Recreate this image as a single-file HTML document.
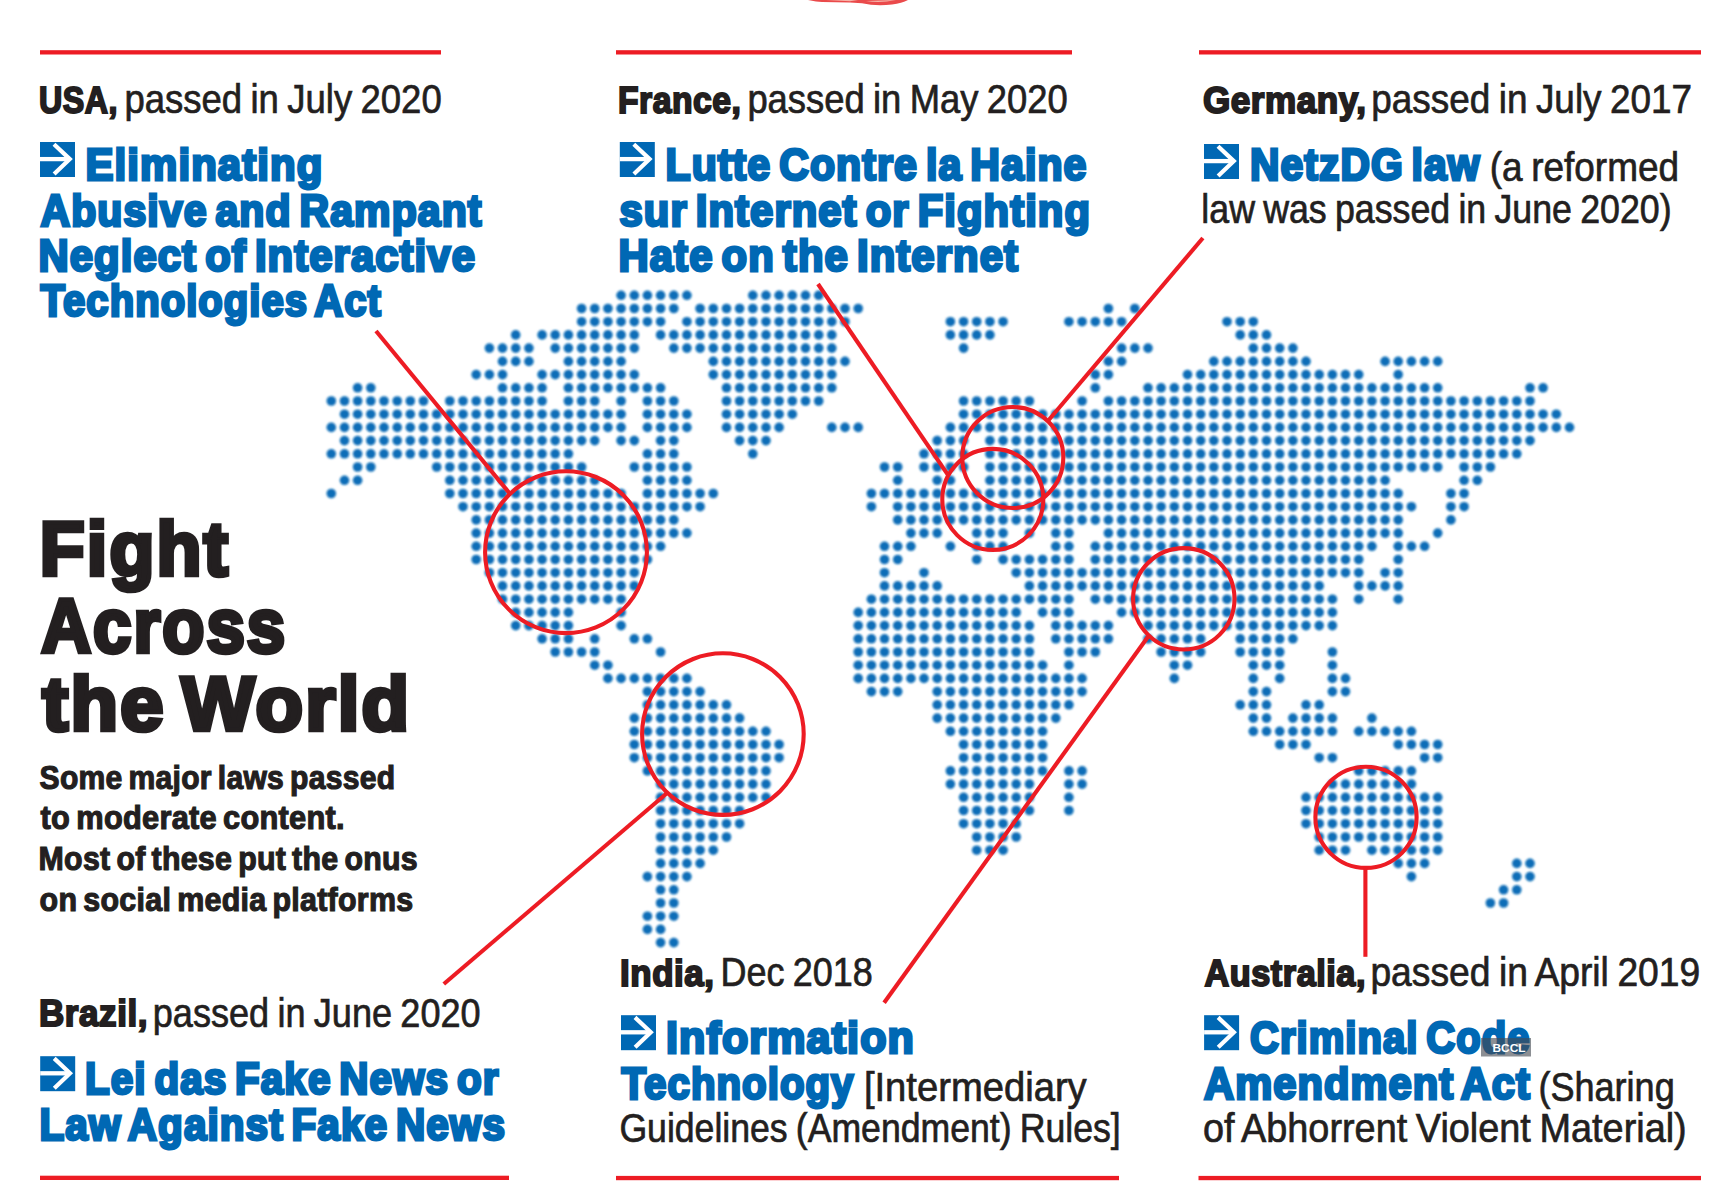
<!DOCTYPE html>
<html lang="en"><head><meta charset="utf-8"><title>Fight Across the World</title>
<style>html,body{margin:0;padding:0;background:#fff}body{width:1716px;height:1200px;overflow:hidden}svg{display:block}text{font-family:"Liberation Sans",sans-serif}.b{font-weight:bold;fill:#231f20;stroke:#231f20;stroke-width:2px;stroke-linejoin:miter;stroke-miterlimit:2.5;word-spacing:-3px;letter-spacing:.6px}.r{fill:#231f20;stroke:#231f20;stroke-width:.7px;word-spacing:-2px}.t{font-weight:bold;fill:#0068b4;stroke:#0068b4;stroke-width:3px;stroke-linejoin:miter;stroke-miterlimit:2.5;word-spacing:-5px;letter-spacing:1.2px}.h{font-weight:bold;fill:#231f20;stroke:#231f20;stroke-width:4.6px;stroke-linejoin:miter;stroke-miterlimit:2.5;word-spacing:-8px;letter-spacing:2.2px}.s{font-weight:bold;fill:#231f20;stroke:#231f20;stroke-width:1.2px;stroke-linejoin:miter;stroke-miterlimit:2.5;word-spacing:-3px;letter-spacing:.3px}</style></head><body>
<svg width="1716" height="1200" viewBox="0 0 1716 1200">
<rect width="1716" height="1200" fill="#fff"/>
<path d="M808,0 L816,1.4 L822,2 L850,2.6 L862,3.3 Q876,6.6 892,4.6 Q902,3 908,0 Z" fill="#ea4a4b"/>
<path d="M826,0 L850,1.2 L858,0 Z M866,1 Q880,3.6 896,0 Z" fill="#f6b3a8"/>
<filter id="bl" x="-5%" y="-5%" width="110%" height="110%"><feGaussianBlur stdDeviation="0.95"/></filter><g fill="#0b6db7" filter="url(#bl)">
<circle cx="621.1" cy="295.3" r="4.80"/><circle cx="634.3" cy="295.3" r="4.80"/><circle cx="647.4" cy="295.3" r="4.80"/><circle cx="660.6" cy="295.3" r="4.80"/><circle cx="673.8" cy="295.3" r="4.80"/><circle cx="686.9" cy="295.3" r="4.80"/><circle cx="752.8" cy="295.3" r="4.80"/><circle cx="766.0" cy="295.3" r="4.80"/><circle cx="779.1" cy="295.3" r="4.80"/><circle cx="792.3" cy="295.3" r="4.80"/><circle cx="805.5" cy="295.3" r="4.80"/><circle cx="818.7" cy="295.3" r="4.80"/><circle cx="581.6" cy="308.5" r="4.80"/><circle cx="594.7" cy="308.5" r="4.80"/><circle cx="607.9" cy="308.5" r="4.80"/><circle cx="621.1" cy="308.5" r="4.80"/><circle cx="634.3" cy="308.5" r="4.80"/><circle cx="647.4" cy="308.5" r="4.80"/><circle cx="660.6" cy="308.5" r="4.80"/><circle cx="673.8" cy="308.5" r="4.80"/><circle cx="700.1" cy="308.5" r="4.80"/><circle cx="713.3" cy="308.5" r="4.80"/><circle cx="726.5" cy="308.5" r="4.80"/><circle cx="739.6" cy="308.5" r="4.80"/><circle cx="752.8" cy="308.5" r="4.80"/><circle cx="766.0" cy="308.5" r="4.80"/><circle cx="779.1" cy="308.5" r="4.80"/><circle cx="792.3" cy="308.5" r="4.80"/><circle cx="805.5" cy="308.5" r="4.80"/><circle cx="818.7" cy="308.5" r="4.80"/><circle cx="831.8" cy="308.5" r="4.80"/><circle cx="845.0" cy="308.5" r="4.80"/><circle cx="858.2" cy="308.5" r="4.80"/><circle cx="1108.4" cy="308.5" r="4.80"/><circle cx="1134.8" cy="308.5" r="4.80"/><circle cx="581.6" cy="321.7" r="4.80"/><circle cx="594.7" cy="321.7" r="4.80"/><circle cx="607.9" cy="321.7" r="4.80"/><circle cx="621.1" cy="321.7" r="4.80"/><circle cx="634.3" cy="321.7" r="4.80"/><circle cx="647.4" cy="321.7" r="4.80"/><circle cx="660.6" cy="321.7" r="4.80"/><circle cx="686.9" cy="321.7" r="4.80"/><circle cx="700.1" cy="321.7" r="4.80"/><circle cx="713.3" cy="321.7" r="4.80"/><circle cx="726.5" cy="321.7" r="4.80"/><circle cx="739.6" cy="321.7" r="4.80"/><circle cx="752.8" cy="321.7" r="4.80"/><circle cx="766.0" cy="321.7" r="4.80"/><circle cx="779.1" cy="321.7" r="4.80"/><circle cx="792.3" cy="321.7" r="4.80"/><circle cx="805.5" cy="321.7" r="4.80"/><circle cx="818.7" cy="321.7" r="4.80"/><circle cx="831.8" cy="321.7" r="4.80"/><circle cx="845.0" cy="321.7" r="4.80"/><circle cx="950.4" cy="321.7" r="4.80"/><circle cx="963.6" cy="321.7" r="4.80"/><circle cx="976.7" cy="321.7" r="4.80"/><circle cx="989.9" cy="321.7" r="4.80"/><circle cx="1003.1" cy="321.7" r="4.80"/><circle cx="1068.9" cy="321.7" r="4.80"/><circle cx="1082.1" cy="321.7" r="4.80"/><circle cx="1095.3" cy="321.7" r="4.80"/><circle cx="1108.4" cy="321.7" r="4.80"/><circle cx="1121.6" cy="321.7" r="4.80"/><circle cx="1227.0" cy="321.7" r="4.80"/><circle cx="1240.2" cy="321.7" r="4.80"/><circle cx="1253.3" cy="321.7" r="4.80"/><circle cx="515.7" cy="334.9" r="4.80"/><circle cx="542.1" cy="334.9" r="4.80"/><circle cx="555.2" cy="334.9" r="4.80"/><circle cx="568.4" cy="334.9" r="4.80"/><circle cx="581.6" cy="334.9" r="4.80"/><circle cx="594.7" cy="334.9" r="4.80"/><circle cx="607.9" cy="334.9" r="4.80"/><circle cx="621.1" cy="334.9" r="4.80"/><circle cx="634.3" cy="334.9" r="4.80"/><circle cx="660.6" cy="334.9" r="4.80"/><circle cx="673.8" cy="334.9" r="4.80"/><circle cx="686.9" cy="334.9" r="4.80"/><circle cx="700.1" cy="334.9" r="4.80"/><circle cx="713.3" cy="334.9" r="4.80"/><circle cx="726.5" cy="334.9" r="4.80"/><circle cx="739.6" cy="334.9" r="4.80"/><circle cx="752.8" cy="334.9" r="4.80"/><circle cx="766.0" cy="334.9" r="4.80"/><circle cx="779.1" cy="334.9" r="4.80"/><circle cx="792.3" cy="334.9" r="4.80"/><circle cx="805.5" cy="334.9" r="4.80"/><circle cx="818.7" cy="334.9" r="4.80"/><circle cx="831.8" cy="334.9" r="4.80"/><circle cx="950.4" cy="334.9" r="4.80"/><circle cx="963.6" cy="334.9" r="4.80"/><circle cx="976.7" cy="334.9" r="4.80"/><circle cx="989.9" cy="334.9" r="4.80"/><circle cx="1240.2" cy="334.9" r="4.80"/><circle cx="1253.3" cy="334.9" r="4.80"/><circle cx="1266.5" cy="334.9" r="4.80"/><circle cx="489.4" cy="348.1" r="4.80"/><circle cx="502.5" cy="348.1" r="4.80"/><circle cx="515.7" cy="348.1" r="4.80"/><circle cx="528.9" cy="348.1" r="4.80"/><circle cx="555.2" cy="348.1" r="4.80"/><circle cx="568.4" cy="348.1" r="4.80"/><circle cx="581.6" cy="348.1" r="4.80"/><circle cx="594.7" cy="348.1" r="4.80"/><circle cx="607.9" cy="348.1" r="4.80"/><circle cx="621.1" cy="348.1" r="4.80"/><circle cx="634.3" cy="348.1" r="4.80"/><circle cx="673.8" cy="348.1" r="4.80"/><circle cx="686.9" cy="348.1" r="4.80"/><circle cx="700.1" cy="348.1" r="4.80"/><circle cx="713.3" cy="348.1" r="4.80"/><circle cx="726.5" cy="348.1" r="4.80"/><circle cx="739.6" cy="348.1" r="4.80"/><circle cx="752.8" cy="348.1" r="4.80"/><circle cx="766.0" cy="348.1" r="4.80"/><circle cx="779.1" cy="348.1" r="4.80"/><circle cx="792.3" cy="348.1" r="4.80"/><circle cx="805.5" cy="348.1" r="4.80"/><circle cx="818.7" cy="348.1" r="4.80"/><circle cx="831.8" cy="348.1" r="4.80"/><circle cx="963.6" cy="348.1" r="4.80"/><circle cx="1121.6" cy="348.1" r="4.80"/><circle cx="1134.8" cy="348.1" r="4.80"/><circle cx="1148.0" cy="348.1" r="4.80"/><circle cx="1253.3" cy="348.1" r="4.80"/><circle cx="1266.5" cy="348.1" r="4.80"/><circle cx="1279.7" cy="348.1" r="4.80"/><circle cx="1292.9" cy="348.1" r="4.80"/><circle cx="502.5" cy="361.4" r="4.80"/><circle cx="515.7" cy="361.4" r="4.80"/><circle cx="528.9" cy="361.4" r="4.80"/><circle cx="568.4" cy="361.4" r="4.80"/><circle cx="581.6" cy="361.4" r="4.80"/><circle cx="594.7" cy="361.4" r="4.80"/><circle cx="607.9" cy="361.4" r="4.80"/><circle cx="621.1" cy="361.4" r="4.80"/><circle cx="713.3" cy="361.4" r="4.80"/><circle cx="726.5" cy="361.4" r="4.80"/><circle cx="739.6" cy="361.4" r="4.80"/><circle cx="752.8" cy="361.4" r="4.80"/><circle cx="766.0" cy="361.4" r="4.80"/><circle cx="779.1" cy="361.4" r="4.80"/><circle cx="792.3" cy="361.4" r="4.80"/><circle cx="805.5" cy="361.4" r="4.80"/><circle cx="818.7" cy="361.4" r="4.80"/><circle cx="831.8" cy="361.4" r="4.80"/><circle cx="845.0" cy="361.4" r="4.80"/><circle cx="1108.4" cy="361.4" r="4.80"/><circle cx="1121.6" cy="361.4" r="4.80"/><circle cx="1213.8" cy="361.4" r="4.80"/><circle cx="1227.0" cy="361.4" r="4.80"/><circle cx="1240.2" cy="361.4" r="4.80"/><circle cx="1253.3" cy="361.4" r="4.80"/><circle cx="1266.5" cy="361.4" r="4.80"/><circle cx="1279.7" cy="361.4" r="4.80"/><circle cx="1292.9" cy="361.4" r="4.80"/><circle cx="1306.0" cy="361.4" r="4.80"/><circle cx="1385.1" cy="361.4" r="4.80"/><circle cx="1398.2" cy="361.4" r="4.80"/><circle cx="1411.4" cy="361.4" r="4.80"/><circle cx="1424.6" cy="361.4" r="4.80"/><circle cx="1437.7" cy="361.4" r="4.80"/><circle cx="476.2" cy="374.6" r="4.80"/><circle cx="489.4" cy="374.6" r="4.80"/><circle cx="502.5" cy="374.6" r="4.80"/><circle cx="542.1" cy="374.6" r="4.80"/><circle cx="555.2" cy="374.6" r="4.80"/><circle cx="568.4" cy="374.6" r="4.80"/><circle cx="581.6" cy="374.6" r="4.80"/><circle cx="594.7" cy="374.6" r="4.80"/><circle cx="607.9" cy="374.6" r="4.80"/><circle cx="621.1" cy="374.6" r="4.80"/><circle cx="634.3" cy="374.6" r="4.80"/><circle cx="713.3" cy="374.6" r="4.80"/><circle cx="726.5" cy="374.6" r="4.80"/><circle cx="739.6" cy="374.6" r="4.80"/><circle cx="752.8" cy="374.6" r="4.80"/><circle cx="766.0" cy="374.6" r="4.80"/><circle cx="779.1" cy="374.6" r="4.80"/><circle cx="792.3" cy="374.6" r="4.80"/><circle cx="805.5" cy="374.6" r="4.80"/><circle cx="818.7" cy="374.6" r="4.80"/><circle cx="831.8" cy="374.6" r="4.80"/><circle cx="1095.3" cy="374.6" r="4.80"/><circle cx="1108.4" cy="374.6" r="4.80"/><circle cx="1187.5" cy="374.6" r="4.80"/><circle cx="1200.7" cy="374.6" r="4.80"/><circle cx="1213.8" cy="374.6" r="4.80"/><circle cx="1227.0" cy="374.6" r="4.80"/><circle cx="1240.2" cy="374.6" r="4.80"/><circle cx="1253.3" cy="374.6" r="4.80"/><circle cx="1266.5" cy="374.6" r="4.80"/><circle cx="1279.7" cy="374.6" r="4.80"/><circle cx="1292.9" cy="374.6" r="4.80"/><circle cx="1306.0" cy="374.6" r="4.80"/><circle cx="1319.2" cy="374.6" r="4.80"/><circle cx="1332.4" cy="374.6" r="4.80"/><circle cx="1345.5" cy="374.6" r="4.80"/><circle cx="1358.7" cy="374.6" r="4.80"/><circle cx="1398.2" cy="374.6" r="4.80"/><circle cx="357.6" cy="387.8" r="4.80"/><circle cx="370.8" cy="387.8" r="4.80"/><circle cx="502.5" cy="387.8" r="4.80"/><circle cx="515.7" cy="387.8" r="4.80"/><circle cx="528.9" cy="387.8" r="4.80"/><circle cx="542.1" cy="387.8" r="4.80"/><circle cx="568.4" cy="387.8" r="4.80"/><circle cx="581.6" cy="387.8" r="4.80"/><circle cx="594.7" cy="387.8" r="4.80"/><circle cx="607.9" cy="387.8" r="4.80"/><circle cx="621.1" cy="387.8" r="4.80"/><circle cx="634.3" cy="387.8" r="4.80"/><circle cx="647.4" cy="387.8" r="4.80"/><circle cx="660.6" cy="387.8" r="4.80"/><circle cx="726.5" cy="387.8" r="4.80"/><circle cx="739.6" cy="387.8" r="4.80"/><circle cx="752.8" cy="387.8" r="4.80"/><circle cx="766.0" cy="387.8" r="4.80"/><circle cx="779.1" cy="387.8" r="4.80"/><circle cx="792.3" cy="387.8" r="4.80"/><circle cx="805.5" cy="387.8" r="4.80"/><circle cx="818.7" cy="387.8" r="4.80"/><circle cx="831.8" cy="387.8" r="4.80"/><circle cx="1095.3" cy="387.8" r="4.80"/><circle cx="1148.0" cy="387.8" r="4.80"/><circle cx="1161.1" cy="387.8" r="4.80"/><circle cx="1174.3" cy="387.8" r="4.80"/><circle cx="1187.5" cy="387.8" r="4.80"/><circle cx="1200.7" cy="387.8" r="4.80"/><circle cx="1213.8" cy="387.8" r="4.80"/><circle cx="1227.0" cy="387.8" r="4.80"/><circle cx="1240.2" cy="387.8" r="4.80"/><circle cx="1253.3" cy="387.8" r="4.80"/><circle cx="1266.5" cy="387.8" r="4.80"/><circle cx="1279.7" cy="387.8" r="4.80"/><circle cx="1292.9" cy="387.8" r="4.80"/><circle cx="1306.0" cy="387.8" r="4.80"/><circle cx="1319.2" cy="387.8" r="4.80"/><circle cx="1332.4" cy="387.8" r="4.80"/><circle cx="1345.5" cy="387.8" r="4.80"/><circle cx="1358.7" cy="387.8" r="4.80"/><circle cx="1371.9" cy="387.8" r="4.80"/><circle cx="1385.1" cy="387.8" r="4.80"/><circle cx="1398.2" cy="387.8" r="4.80"/><circle cx="1411.4" cy="387.8" r="4.80"/><circle cx="1424.6" cy="387.8" r="4.80"/><circle cx="1437.7" cy="387.8" r="4.80"/><circle cx="1530.0" cy="387.8" r="4.80"/><circle cx="1543.1" cy="387.8" r="4.80"/><circle cx="331.3" cy="401.0" r="4.80"/><circle cx="344.5" cy="401.0" r="4.80"/><circle cx="357.6" cy="401.0" r="4.80"/><circle cx="370.8" cy="401.0" r="4.80"/><circle cx="384.0" cy="401.0" r="4.80"/><circle cx="397.2" cy="401.0" r="4.80"/><circle cx="410.3" cy="401.0" r="4.80"/><circle cx="423.5" cy="401.0" r="4.80"/><circle cx="449.8" cy="401.0" r="4.80"/><circle cx="463.0" cy="401.0" r="4.80"/><circle cx="476.2" cy="401.0" r="4.80"/><circle cx="489.4" cy="401.0" r="4.80"/><circle cx="502.5" cy="401.0" r="4.80"/><circle cx="515.7" cy="401.0" r="4.80"/><circle cx="528.9" cy="401.0" r="4.80"/><circle cx="542.1" cy="401.0" r="4.80"/><circle cx="568.4" cy="401.0" r="4.80"/><circle cx="581.6" cy="401.0" r="4.80"/><circle cx="594.7" cy="401.0" r="4.80"/><circle cx="621.1" cy="401.0" r="4.80"/><circle cx="647.4" cy="401.0" r="4.80"/><circle cx="660.6" cy="401.0" r="4.80"/><circle cx="673.8" cy="401.0" r="4.80"/><circle cx="726.5" cy="401.0" r="4.80"/><circle cx="739.6" cy="401.0" r="4.80"/><circle cx="752.8" cy="401.0" r="4.80"/><circle cx="766.0" cy="401.0" r="4.80"/><circle cx="779.1" cy="401.0" r="4.80"/><circle cx="792.3" cy="401.0" r="4.80"/><circle cx="805.5" cy="401.0" r="4.80"/><circle cx="818.7" cy="401.0" r="4.80"/><circle cx="963.6" cy="401.0" r="4.80"/><circle cx="976.7" cy="401.0" r="4.80"/><circle cx="989.9" cy="401.0" r="4.80"/><circle cx="1003.1" cy="401.0" r="4.80"/><circle cx="1016.2" cy="401.0" r="4.80"/><circle cx="1029.4" cy="401.0" r="4.80"/><circle cx="1082.1" cy="401.0" r="4.80"/><circle cx="1108.4" cy="401.0" r="4.80"/><circle cx="1121.6" cy="401.0" r="4.80"/><circle cx="1134.8" cy="401.0" r="4.80"/><circle cx="1148.0" cy="401.0" r="4.80"/><circle cx="1161.1" cy="401.0" r="4.80"/><circle cx="1174.3" cy="401.0" r="4.80"/><circle cx="1187.5" cy="401.0" r="4.80"/><circle cx="1200.7" cy="401.0" r="4.80"/><circle cx="1213.8" cy="401.0" r="4.80"/><circle cx="1227.0" cy="401.0" r="4.80"/><circle cx="1240.2" cy="401.0" r="4.80"/><circle cx="1253.3" cy="401.0" r="4.80"/><circle cx="1266.5" cy="401.0" r="4.80"/><circle cx="1279.7" cy="401.0" r="4.80"/><circle cx="1292.9" cy="401.0" r="4.80"/><circle cx="1306.0" cy="401.0" r="4.80"/><circle cx="1319.2" cy="401.0" r="4.80"/><circle cx="1332.4" cy="401.0" r="4.80"/><circle cx="1345.5" cy="401.0" r="4.80"/><circle cx="1358.7" cy="401.0" r="4.80"/><circle cx="1371.9" cy="401.0" r="4.80"/><circle cx="1385.1" cy="401.0" r="4.80"/><circle cx="1398.2" cy="401.0" r="4.80"/><circle cx="1411.4" cy="401.0" r="4.80"/><circle cx="1424.6" cy="401.0" r="4.80"/><circle cx="1437.7" cy="401.0" r="4.80"/><circle cx="1450.9" cy="401.0" r="4.80"/><circle cx="1464.1" cy="401.0" r="4.80"/><circle cx="1477.3" cy="401.0" r="4.80"/><circle cx="1490.4" cy="401.0" r="4.80"/><circle cx="1503.6" cy="401.0" r="4.80"/><circle cx="1516.8" cy="401.0" r="4.80"/><circle cx="1530.0" cy="401.0" r="4.80"/><circle cx="344.5" cy="414.2" r="4.80"/><circle cx="357.6" cy="414.2" r="4.80"/><circle cx="370.8" cy="414.2" r="4.80"/><circle cx="384.0" cy="414.2" r="4.80"/><circle cx="397.2" cy="414.2" r="4.80"/><circle cx="410.3" cy="414.2" r="4.80"/><circle cx="423.5" cy="414.2" r="4.80"/><circle cx="436.7" cy="414.2" r="4.80"/><circle cx="449.8" cy="414.2" r="4.80"/><circle cx="463.0" cy="414.2" r="4.80"/><circle cx="476.2" cy="414.2" r="4.80"/><circle cx="489.4" cy="414.2" r="4.80"/><circle cx="502.5" cy="414.2" r="4.80"/><circle cx="515.7" cy="414.2" r="4.80"/><circle cx="528.9" cy="414.2" r="4.80"/><circle cx="542.1" cy="414.2" r="4.80"/><circle cx="555.2" cy="414.2" r="4.80"/><circle cx="568.4" cy="414.2" r="4.80"/><circle cx="581.6" cy="414.2" r="4.80"/><circle cx="594.7" cy="414.2" r="4.80"/><circle cx="607.9" cy="414.2" r="4.80"/><circle cx="621.1" cy="414.2" r="4.80"/><circle cx="647.4" cy="414.2" r="4.80"/><circle cx="660.6" cy="414.2" r="4.80"/><circle cx="673.8" cy="414.2" r="4.80"/><circle cx="686.9" cy="414.2" r="4.80"/><circle cx="726.5" cy="414.2" r="4.80"/><circle cx="739.6" cy="414.2" r="4.80"/><circle cx="752.8" cy="414.2" r="4.80"/><circle cx="766.0" cy="414.2" r="4.80"/><circle cx="779.1" cy="414.2" r="4.80"/><circle cx="792.3" cy="414.2" r="4.80"/><circle cx="963.6" cy="414.2" r="4.80"/><circle cx="976.7" cy="414.2" r="4.80"/><circle cx="989.9" cy="414.2" r="4.80"/><circle cx="1003.1" cy="414.2" r="4.80"/><circle cx="1016.2" cy="414.2" r="4.80"/><circle cx="1029.4" cy="414.2" r="4.80"/><circle cx="1042.6" cy="414.2" r="4.80"/><circle cx="1055.8" cy="414.2" r="4.80"/><circle cx="1068.9" cy="414.2" r="4.80"/><circle cx="1082.1" cy="414.2" r="4.80"/><circle cx="1095.3" cy="414.2" r="4.80"/><circle cx="1108.4" cy="414.2" r="4.80"/><circle cx="1121.6" cy="414.2" r="4.80"/><circle cx="1134.8" cy="414.2" r="4.80"/><circle cx="1148.0" cy="414.2" r="4.80"/><circle cx="1161.1" cy="414.2" r="4.80"/><circle cx="1174.3" cy="414.2" r="4.80"/><circle cx="1187.5" cy="414.2" r="4.80"/><circle cx="1200.7" cy="414.2" r="4.80"/><circle cx="1213.8" cy="414.2" r="4.80"/><circle cx="1227.0" cy="414.2" r="4.80"/><circle cx="1240.2" cy="414.2" r="4.80"/><circle cx="1253.3" cy="414.2" r="4.80"/><circle cx="1266.5" cy="414.2" r="4.80"/><circle cx="1279.7" cy="414.2" r="4.80"/><circle cx="1292.9" cy="414.2" r="4.80"/><circle cx="1306.0" cy="414.2" r="4.80"/><circle cx="1319.2" cy="414.2" r="4.80"/><circle cx="1332.4" cy="414.2" r="4.80"/><circle cx="1345.5" cy="414.2" r="4.80"/><circle cx="1358.7" cy="414.2" r="4.80"/><circle cx="1371.9" cy="414.2" r="4.80"/><circle cx="1385.1" cy="414.2" r="4.80"/><circle cx="1398.2" cy="414.2" r="4.80"/><circle cx="1411.4" cy="414.2" r="4.80"/><circle cx="1424.6" cy="414.2" r="4.80"/><circle cx="1437.7" cy="414.2" r="4.80"/><circle cx="1450.9" cy="414.2" r="4.80"/><circle cx="1464.1" cy="414.2" r="4.80"/><circle cx="1477.3" cy="414.2" r="4.80"/><circle cx="1490.4" cy="414.2" r="4.80"/><circle cx="1503.6" cy="414.2" r="4.80"/><circle cx="1516.8" cy="414.2" r="4.80"/><circle cx="1530.0" cy="414.2" r="4.80"/><circle cx="1543.1" cy="414.2" r="4.80"/><circle cx="1556.3" cy="414.2" r="4.80"/><circle cx="331.3" cy="427.4" r="4.80"/><circle cx="344.5" cy="427.4" r="4.80"/><circle cx="357.6" cy="427.4" r="4.80"/><circle cx="370.8" cy="427.4" r="4.80"/><circle cx="384.0" cy="427.4" r="4.80"/><circle cx="397.2" cy="427.4" r="4.80"/><circle cx="410.3" cy="427.4" r="4.80"/><circle cx="423.5" cy="427.4" r="4.80"/><circle cx="436.7" cy="427.4" r="4.80"/><circle cx="449.8" cy="427.4" r="4.80"/><circle cx="463.0" cy="427.4" r="4.80"/><circle cx="476.2" cy="427.4" r="4.80"/><circle cx="489.4" cy="427.4" r="4.80"/><circle cx="502.5" cy="427.4" r="4.80"/><circle cx="515.7" cy="427.4" r="4.80"/><circle cx="528.9" cy="427.4" r="4.80"/><circle cx="542.1" cy="427.4" r="4.80"/><circle cx="555.2" cy="427.4" r="4.80"/><circle cx="568.4" cy="427.4" r="4.80"/><circle cx="581.6" cy="427.4" r="4.80"/><circle cx="594.7" cy="427.4" r="4.80"/><circle cx="607.9" cy="427.4" r="4.80"/><circle cx="621.1" cy="427.4" r="4.80"/><circle cx="647.4" cy="427.4" r="4.80"/><circle cx="660.6" cy="427.4" r="4.80"/><circle cx="673.8" cy="427.4" r="4.80"/><circle cx="686.9" cy="427.4" r="4.80"/><circle cx="726.5" cy="427.4" r="4.80"/><circle cx="739.6" cy="427.4" r="4.80"/><circle cx="752.8" cy="427.4" r="4.80"/><circle cx="766.0" cy="427.4" r="4.80"/><circle cx="779.1" cy="427.4" r="4.80"/><circle cx="831.8" cy="427.4" r="4.80"/><circle cx="845.0" cy="427.4" r="4.80"/><circle cx="858.2" cy="427.4" r="4.80"/><circle cx="950.4" cy="427.4" r="4.80"/><circle cx="963.6" cy="427.4" r="4.80"/><circle cx="976.7" cy="427.4" r="4.80"/><circle cx="989.9" cy="427.4" r="4.80"/><circle cx="1003.1" cy="427.4" r="4.80"/><circle cx="1016.2" cy="427.4" r="4.80"/><circle cx="1029.4" cy="427.4" r="4.80"/><circle cx="1042.6" cy="427.4" r="4.80"/><circle cx="1055.8" cy="427.4" r="4.80"/><circle cx="1068.9" cy="427.4" r="4.80"/><circle cx="1082.1" cy="427.4" r="4.80"/><circle cx="1095.3" cy="427.4" r="4.80"/><circle cx="1108.4" cy="427.4" r="4.80"/><circle cx="1121.6" cy="427.4" r="4.80"/><circle cx="1134.8" cy="427.4" r="4.80"/><circle cx="1148.0" cy="427.4" r="4.80"/><circle cx="1161.1" cy="427.4" r="4.80"/><circle cx="1174.3" cy="427.4" r="4.80"/><circle cx="1187.5" cy="427.4" r="4.80"/><circle cx="1200.7" cy="427.4" r="4.80"/><circle cx="1213.8" cy="427.4" r="4.80"/><circle cx="1227.0" cy="427.4" r="4.80"/><circle cx="1240.2" cy="427.4" r="4.80"/><circle cx="1253.3" cy="427.4" r="4.80"/><circle cx="1266.5" cy="427.4" r="4.80"/><circle cx="1279.7" cy="427.4" r="4.80"/><circle cx="1292.9" cy="427.4" r="4.80"/><circle cx="1306.0" cy="427.4" r="4.80"/><circle cx="1319.2" cy="427.4" r="4.80"/><circle cx="1332.4" cy="427.4" r="4.80"/><circle cx="1345.5" cy="427.4" r="4.80"/><circle cx="1358.7" cy="427.4" r="4.80"/><circle cx="1371.9" cy="427.4" r="4.80"/><circle cx="1385.1" cy="427.4" r="4.80"/><circle cx="1398.2" cy="427.4" r="4.80"/><circle cx="1411.4" cy="427.4" r="4.80"/><circle cx="1424.6" cy="427.4" r="4.80"/><circle cx="1437.7" cy="427.4" r="4.80"/><circle cx="1450.9" cy="427.4" r="4.80"/><circle cx="1464.1" cy="427.4" r="4.80"/><circle cx="1477.3" cy="427.4" r="4.80"/><circle cx="1490.4" cy="427.4" r="4.80"/><circle cx="1503.6" cy="427.4" r="4.80"/><circle cx="1516.8" cy="427.4" r="4.80"/><circle cx="1530.0" cy="427.4" r="4.80"/><circle cx="1543.1" cy="427.4" r="4.80"/><circle cx="1556.3" cy="427.4" r="4.80"/><circle cx="1569.5" cy="427.4" r="4.80"/><circle cx="344.5" cy="440.6" r="4.80"/><circle cx="357.6" cy="440.6" r="4.80"/><circle cx="370.8" cy="440.6" r="4.80"/><circle cx="384.0" cy="440.6" r="4.80"/><circle cx="397.2" cy="440.6" r="4.80"/><circle cx="410.3" cy="440.6" r="4.80"/><circle cx="423.5" cy="440.6" r="4.80"/><circle cx="436.7" cy="440.6" r="4.80"/><circle cx="449.8" cy="440.6" r="4.80"/><circle cx="463.0" cy="440.6" r="4.80"/><circle cx="476.2" cy="440.6" r="4.80"/><circle cx="489.4" cy="440.6" r="4.80"/><circle cx="502.5" cy="440.6" r="4.80"/><circle cx="515.7" cy="440.6" r="4.80"/><circle cx="528.9" cy="440.6" r="4.80"/><circle cx="542.1" cy="440.6" r="4.80"/><circle cx="555.2" cy="440.6" r="4.80"/><circle cx="568.4" cy="440.6" r="4.80"/><circle cx="581.6" cy="440.6" r="4.80"/><circle cx="594.7" cy="440.6" r="4.80"/><circle cx="621.1" cy="440.6" r="4.80"/><circle cx="634.3" cy="440.6" r="4.80"/><circle cx="660.6" cy="440.6" r="4.80"/><circle cx="673.8" cy="440.6" r="4.80"/><circle cx="739.6" cy="440.6" r="4.80"/><circle cx="752.8" cy="440.6" r="4.80"/><circle cx="766.0" cy="440.6" r="4.80"/><circle cx="937.2" cy="440.6" r="4.80"/><circle cx="950.4" cy="440.6" r="4.80"/><circle cx="963.6" cy="440.6" r="4.80"/><circle cx="989.9" cy="440.6" r="4.80"/><circle cx="1003.1" cy="440.6" r="4.80"/><circle cx="1016.2" cy="440.6" r="4.80"/><circle cx="1029.4" cy="440.6" r="4.80"/><circle cx="1042.6" cy="440.6" r="4.80"/><circle cx="1055.8" cy="440.6" r="4.80"/><circle cx="1068.9" cy="440.6" r="4.80"/><circle cx="1082.1" cy="440.6" r="4.80"/><circle cx="1095.3" cy="440.6" r="4.80"/><circle cx="1108.4" cy="440.6" r="4.80"/><circle cx="1121.6" cy="440.6" r="4.80"/><circle cx="1134.8" cy="440.6" r="4.80"/><circle cx="1148.0" cy="440.6" r="4.80"/><circle cx="1161.1" cy="440.6" r="4.80"/><circle cx="1174.3" cy="440.6" r="4.80"/><circle cx="1187.5" cy="440.6" r="4.80"/><circle cx="1200.7" cy="440.6" r="4.80"/><circle cx="1213.8" cy="440.6" r="4.80"/><circle cx="1227.0" cy="440.6" r="4.80"/><circle cx="1240.2" cy="440.6" r="4.80"/><circle cx="1253.3" cy="440.6" r="4.80"/><circle cx="1266.5" cy="440.6" r="4.80"/><circle cx="1279.7" cy="440.6" r="4.80"/><circle cx="1292.9" cy="440.6" r="4.80"/><circle cx="1306.0" cy="440.6" r="4.80"/><circle cx="1319.2" cy="440.6" r="4.80"/><circle cx="1332.4" cy="440.6" r="4.80"/><circle cx="1345.5" cy="440.6" r="4.80"/><circle cx="1358.7" cy="440.6" r="4.80"/><circle cx="1371.9" cy="440.6" r="4.80"/><circle cx="1385.1" cy="440.6" r="4.80"/><circle cx="1398.2" cy="440.6" r="4.80"/><circle cx="1411.4" cy="440.6" r="4.80"/><circle cx="1424.6" cy="440.6" r="4.80"/><circle cx="1437.7" cy="440.6" r="4.80"/><circle cx="1450.9" cy="440.6" r="4.80"/><circle cx="1464.1" cy="440.6" r="4.80"/><circle cx="1477.3" cy="440.6" r="4.80"/><circle cx="1490.4" cy="440.6" r="4.80"/><circle cx="1503.6" cy="440.6" r="4.80"/><circle cx="1516.8" cy="440.6" r="4.80"/><circle cx="1530.0" cy="440.6" r="4.80"/><circle cx="331.3" cy="453.8" r="4.80"/><circle cx="344.5" cy="453.8" r="4.80"/><circle cx="357.6" cy="453.8" r="4.80"/><circle cx="370.8" cy="453.8" r="4.80"/><circle cx="384.0" cy="453.8" r="4.80"/><circle cx="397.2" cy="453.8" r="4.80"/><circle cx="410.3" cy="453.8" r="4.80"/><circle cx="423.5" cy="453.8" r="4.80"/><circle cx="436.7" cy="453.8" r="4.80"/><circle cx="449.8" cy="453.8" r="4.80"/><circle cx="463.0" cy="453.8" r="4.80"/><circle cx="476.2" cy="453.8" r="4.80"/><circle cx="489.4" cy="453.8" r="4.80"/><circle cx="502.5" cy="453.8" r="4.80"/><circle cx="515.7" cy="453.8" r="4.80"/><circle cx="528.9" cy="453.8" r="4.80"/><circle cx="542.1" cy="453.8" r="4.80"/><circle cx="555.2" cy="453.8" r="4.80"/><circle cx="568.4" cy="453.8" r="4.80"/><circle cx="647.4" cy="453.8" r="4.80"/><circle cx="660.6" cy="453.8" r="4.80"/><circle cx="673.8" cy="453.8" r="4.80"/><circle cx="752.8" cy="453.8" r="4.80"/><circle cx="924.0" cy="453.8" r="4.80"/><circle cx="937.2" cy="453.8" r="4.80"/><circle cx="950.4" cy="453.8" r="4.80"/><circle cx="963.6" cy="453.8" r="4.80"/><circle cx="989.9" cy="453.8" r="4.80"/><circle cx="1003.1" cy="453.8" r="4.80"/><circle cx="1016.2" cy="453.8" r="4.80"/><circle cx="1029.4" cy="453.8" r="4.80"/><circle cx="1042.6" cy="453.8" r="4.80"/><circle cx="1055.8" cy="453.8" r="4.80"/><circle cx="1068.9" cy="453.8" r="4.80"/><circle cx="1082.1" cy="453.8" r="4.80"/><circle cx="1095.3" cy="453.8" r="4.80"/><circle cx="1108.4" cy="453.8" r="4.80"/><circle cx="1121.6" cy="453.8" r="4.80"/><circle cx="1134.8" cy="453.8" r="4.80"/><circle cx="1148.0" cy="453.8" r="4.80"/><circle cx="1161.1" cy="453.8" r="4.80"/><circle cx="1174.3" cy="453.8" r="4.80"/><circle cx="1187.5" cy="453.8" r="4.80"/><circle cx="1200.7" cy="453.8" r="4.80"/><circle cx="1213.8" cy="453.8" r="4.80"/><circle cx="1227.0" cy="453.8" r="4.80"/><circle cx="1240.2" cy="453.8" r="4.80"/><circle cx="1253.3" cy="453.8" r="4.80"/><circle cx="1266.5" cy="453.8" r="4.80"/><circle cx="1279.7" cy="453.8" r="4.80"/><circle cx="1292.9" cy="453.8" r="4.80"/><circle cx="1306.0" cy="453.8" r="4.80"/><circle cx="1319.2" cy="453.8" r="4.80"/><circle cx="1332.4" cy="453.8" r="4.80"/><circle cx="1345.5" cy="453.8" r="4.80"/><circle cx="1358.7" cy="453.8" r="4.80"/><circle cx="1371.9" cy="453.8" r="4.80"/><circle cx="1385.1" cy="453.8" r="4.80"/><circle cx="1398.2" cy="453.8" r="4.80"/><circle cx="1411.4" cy="453.8" r="4.80"/><circle cx="1424.6" cy="453.8" r="4.80"/><circle cx="1437.7" cy="453.8" r="4.80"/><circle cx="1450.9" cy="453.8" r="4.80"/><circle cx="1464.1" cy="453.8" r="4.80"/><circle cx="1477.3" cy="453.8" r="4.80"/><circle cx="1490.4" cy="453.8" r="4.80"/><circle cx="1503.6" cy="453.8" r="4.80"/><circle cx="1516.8" cy="453.8" r="4.80"/><circle cx="357.6" cy="467.0" r="4.80"/><circle cx="370.8" cy="467.0" r="4.80"/><circle cx="436.7" cy="467.0" r="4.80"/><circle cx="449.8" cy="467.0" r="4.80"/><circle cx="463.0" cy="467.0" r="4.80"/><circle cx="476.2" cy="467.0" r="4.80"/><circle cx="489.4" cy="467.0" r="4.80"/><circle cx="502.5" cy="467.0" r="4.80"/><circle cx="515.7" cy="467.0" r="4.80"/><circle cx="528.9" cy="467.0" r="4.80"/><circle cx="542.1" cy="467.0" r="4.80"/><circle cx="555.2" cy="467.0" r="4.80"/><circle cx="568.4" cy="467.0" r="4.80"/><circle cx="581.6" cy="467.0" r="4.80"/><circle cx="634.3" cy="467.0" r="4.80"/><circle cx="647.4" cy="467.0" r="4.80"/><circle cx="660.6" cy="467.0" r="4.80"/><circle cx="673.8" cy="467.0" r="4.80"/><circle cx="686.9" cy="467.0" r="4.80"/><circle cx="884.5" cy="467.0" r="4.80"/><circle cx="897.7" cy="467.0" r="4.80"/><circle cx="924.0" cy="467.0" r="4.80"/><circle cx="937.2" cy="467.0" r="4.80"/><circle cx="950.4" cy="467.0" r="4.80"/><circle cx="963.6" cy="467.0" r="4.80"/><circle cx="989.9" cy="467.0" r="4.80"/><circle cx="1003.1" cy="467.0" r="4.80"/><circle cx="1016.2" cy="467.0" r="4.80"/><circle cx="1029.4" cy="467.0" r="4.80"/><circle cx="1042.6" cy="467.0" r="4.80"/><circle cx="1055.8" cy="467.0" r="4.80"/><circle cx="1068.9" cy="467.0" r="4.80"/><circle cx="1082.1" cy="467.0" r="4.80"/><circle cx="1095.3" cy="467.0" r="4.80"/><circle cx="1108.4" cy="467.0" r="4.80"/><circle cx="1121.6" cy="467.0" r="4.80"/><circle cx="1134.8" cy="467.0" r="4.80"/><circle cx="1148.0" cy="467.0" r="4.80"/><circle cx="1161.1" cy="467.0" r="4.80"/><circle cx="1174.3" cy="467.0" r="4.80"/><circle cx="1187.5" cy="467.0" r="4.80"/><circle cx="1200.7" cy="467.0" r="4.80"/><circle cx="1213.8" cy="467.0" r="4.80"/><circle cx="1227.0" cy="467.0" r="4.80"/><circle cx="1240.2" cy="467.0" r="4.80"/><circle cx="1253.3" cy="467.0" r="4.80"/><circle cx="1266.5" cy="467.0" r="4.80"/><circle cx="1279.7" cy="467.0" r="4.80"/><circle cx="1292.9" cy="467.0" r="4.80"/><circle cx="1306.0" cy="467.0" r="4.80"/><circle cx="1319.2" cy="467.0" r="4.80"/><circle cx="1332.4" cy="467.0" r="4.80"/><circle cx="1345.5" cy="467.0" r="4.80"/><circle cx="1358.7" cy="467.0" r="4.80"/><circle cx="1371.9" cy="467.0" r="4.80"/><circle cx="1385.1" cy="467.0" r="4.80"/><circle cx="1398.2" cy="467.0" r="4.80"/><circle cx="1411.4" cy="467.0" r="4.80"/><circle cx="1424.6" cy="467.0" r="4.80"/><circle cx="1437.7" cy="467.0" r="4.80"/><circle cx="1464.1" cy="467.0" r="4.80"/><circle cx="1477.3" cy="467.0" r="4.80"/><circle cx="1490.4" cy="467.0" r="4.80"/><circle cx="344.5" cy="480.3" r="4.80"/><circle cx="357.6" cy="480.3" r="4.80"/><circle cx="449.8" cy="480.3" r="4.80"/><circle cx="463.0" cy="480.3" r="4.80"/><circle cx="476.2" cy="480.3" r="4.80"/><circle cx="489.4" cy="480.3" r="4.80"/><circle cx="502.5" cy="480.3" r="4.80"/><circle cx="515.7" cy="480.3" r="4.80"/><circle cx="528.9" cy="480.3" r="4.80"/><circle cx="542.1" cy="480.3" r="4.80"/><circle cx="555.2" cy="480.3" r="4.80"/><circle cx="568.4" cy="480.3" r="4.80"/><circle cx="581.6" cy="480.3" r="4.80"/><circle cx="594.7" cy="480.3" r="4.80"/><circle cx="647.4" cy="480.3" r="4.80"/><circle cx="660.6" cy="480.3" r="4.80"/><circle cx="673.8" cy="480.3" r="4.80"/><circle cx="686.9" cy="480.3" r="4.80"/><circle cx="897.7" cy="480.3" r="4.80"/><circle cx="937.2" cy="480.3" r="4.80"/><circle cx="950.4" cy="480.3" r="4.80"/><circle cx="989.9" cy="480.3" r="4.80"/><circle cx="1003.1" cy="480.3" r="4.80"/><circle cx="1016.2" cy="480.3" r="4.80"/><circle cx="1029.4" cy="480.3" r="4.80"/><circle cx="1042.6" cy="480.3" r="4.80"/><circle cx="1055.8" cy="480.3" r="4.80"/><circle cx="1068.9" cy="480.3" r="4.80"/><circle cx="1082.1" cy="480.3" r="4.80"/><circle cx="1095.3" cy="480.3" r="4.80"/><circle cx="1108.4" cy="480.3" r="4.80"/><circle cx="1121.6" cy="480.3" r="4.80"/><circle cx="1134.8" cy="480.3" r="4.80"/><circle cx="1148.0" cy="480.3" r="4.80"/><circle cx="1161.1" cy="480.3" r="4.80"/><circle cx="1174.3" cy="480.3" r="4.80"/><circle cx="1187.5" cy="480.3" r="4.80"/><circle cx="1200.7" cy="480.3" r="4.80"/><circle cx="1213.8" cy="480.3" r="4.80"/><circle cx="1227.0" cy="480.3" r="4.80"/><circle cx="1240.2" cy="480.3" r="4.80"/><circle cx="1253.3" cy="480.3" r="4.80"/><circle cx="1266.5" cy="480.3" r="4.80"/><circle cx="1279.7" cy="480.3" r="4.80"/><circle cx="1292.9" cy="480.3" r="4.80"/><circle cx="1306.0" cy="480.3" r="4.80"/><circle cx="1319.2" cy="480.3" r="4.80"/><circle cx="1332.4" cy="480.3" r="4.80"/><circle cx="1345.5" cy="480.3" r="4.80"/><circle cx="1358.7" cy="480.3" r="4.80"/><circle cx="1371.9" cy="480.3" r="4.80"/><circle cx="1385.1" cy="480.3" r="4.80"/><circle cx="1464.1" cy="480.3" r="4.80"/><circle cx="1477.3" cy="480.3" r="4.80"/><circle cx="331.3" cy="493.5" r="4.80"/><circle cx="449.8" cy="493.5" r="4.80"/><circle cx="463.0" cy="493.5" r="4.80"/><circle cx="476.2" cy="493.5" r="4.80"/><circle cx="489.4" cy="493.5" r="4.80"/><circle cx="502.5" cy="493.5" r="4.80"/><circle cx="515.7" cy="493.5" r="4.80"/><circle cx="528.9" cy="493.5" r="4.80"/><circle cx="542.1" cy="493.5" r="4.80"/><circle cx="555.2" cy="493.5" r="4.80"/><circle cx="568.4" cy="493.5" r="4.80"/><circle cx="581.6" cy="493.5" r="4.80"/><circle cx="594.7" cy="493.5" r="4.80"/><circle cx="607.9" cy="493.5" r="4.80"/><circle cx="621.1" cy="493.5" r="4.80"/><circle cx="647.4" cy="493.5" r="4.80"/><circle cx="660.6" cy="493.5" r="4.80"/><circle cx="673.8" cy="493.5" r="4.80"/><circle cx="686.9" cy="493.5" r="4.80"/><circle cx="700.1" cy="493.5" r="4.80"/><circle cx="713.3" cy="493.5" r="4.80"/><circle cx="871.4" cy="493.5" r="4.80"/><circle cx="884.5" cy="493.5" r="4.80"/><circle cx="897.7" cy="493.5" r="4.80"/><circle cx="910.9" cy="493.5" r="4.80"/><circle cx="924.0" cy="493.5" r="4.80"/><circle cx="937.2" cy="493.5" r="4.80"/><circle cx="950.4" cy="493.5" r="4.80"/><circle cx="963.6" cy="493.5" r="4.80"/><circle cx="976.7" cy="493.5" r="4.80"/><circle cx="989.9" cy="493.5" r="4.80"/><circle cx="1003.1" cy="493.5" r="4.80"/><circle cx="1016.2" cy="493.5" r="4.80"/><circle cx="1029.4" cy="493.5" r="4.80"/><circle cx="1042.6" cy="493.5" r="4.80"/><circle cx="1055.8" cy="493.5" r="4.80"/><circle cx="1068.9" cy="493.5" r="4.80"/><circle cx="1082.1" cy="493.5" r="4.80"/><circle cx="1095.3" cy="493.5" r="4.80"/><circle cx="1108.4" cy="493.5" r="4.80"/><circle cx="1121.6" cy="493.5" r="4.80"/><circle cx="1134.8" cy="493.5" r="4.80"/><circle cx="1148.0" cy="493.5" r="4.80"/><circle cx="1161.1" cy="493.5" r="4.80"/><circle cx="1174.3" cy="493.5" r="4.80"/><circle cx="1187.5" cy="493.5" r="4.80"/><circle cx="1200.7" cy="493.5" r="4.80"/><circle cx="1213.8" cy="493.5" r="4.80"/><circle cx="1227.0" cy="493.5" r="4.80"/><circle cx="1240.2" cy="493.5" r="4.80"/><circle cx="1253.3" cy="493.5" r="4.80"/><circle cx="1266.5" cy="493.5" r="4.80"/><circle cx="1279.7" cy="493.5" r="4.80"/><circle cx="1292.9" cy="493.5" r="4.80"/><circle cx="1306.0" cy="493.5" r="4.80"/><circle cx="1319.2" cy="493.5" r="4.80"/><circle cx="1332.4" cy="493.5" r="4.80"/><circle cx="1345.5" cy="493.5" r="4.80"/><circle cx="1358.7" cy="493.5" r="4.80"/><circle cx="1371.9" cy="493.5" r="4.80"/><circle cx="1385.1" cy="493.5" r="4.80"/><circle cx="1398.2" cy="493.5" r="4.80"/><circle cx="1450.9" cy="493.5" r="4.80"/><circle cx="1464.1" cy="493.5" r="4.80"/><circle cx="463.0" cy="506.7" r="4.80"/><circle cx="476.2" cy="506.7" r="4.80"/><circle cx="489.4" cy="506.7" r="4.80"/><circle cx="502.5" cy="506.7" r="4.80"/><circle cx="515.7" cy="506.7" r="4.80"/><circle cx="528.9" cy="506.7" r="4.80"/><circle cx="542.1" cy="506.7" r="4.80"/><circle cx="555.2" cy="506.7" r="4.80"/><circle cx="568.4" cy="506.7" r="4.80"/><circle cx="581.6" cy="506.7" r="4.80"/><circle cx="594.7" cy="506.7" r="4.80"/><circle cx="607.9" cy="506.7" r="4.80"/><circle cx="621.1" cy="506.7" r="4.80"/><circle cx="634.3" cy="506.7" r="4.80"/><circle cx="647.4" cy="506.7" r="4.80"/><circle cx="660.6" cy="506.7" r="4.80"/><circle cx="673.8" cy="506.7" r="4.80"/><circle cx="686.9" cy="506.7" r="4.80"/><circle cx="700.1" cy="506.7" r="4.80"/><circle cx="871.4" cy="506.7" r="4.80"/><circle cx="897.7" cy="506.7" r="4.80"/><circle cx="910.9" cy="506.7" r="4.80"/><circle cx="924.0" cy="506.7" r="4.80"/><circle cx="937.2" cy="506.7" r="4.80"/><circle cx="950.4" cy="506.7" r="4.80"/><circle cx="963.6" cy="506.7" r="4.80"/><circle cx="976.7" cy="506.7" r="4.80"/><circle cx="989.9" cy="506.7" r="4.80"/><circle cx="1003.1" cy="506.7" r="4.80"/><circle cx="1016.2" cy="506.7" r="4.80"/><circle cx="1029.4" cy="506.7" r="4.80"/><circle cx="1042.6" cy="506.7" r="4.80"/><circle cx="1055.8" cy="506.7" r="4.80"/><circle cx="1068.9" cy="506.7" r="4.80"/><circle cx="1082.1" cy="506.7" r="4.80"/><circle cx="1095.3" cy="506.7" r="4.80"/><circle cx="1108.4" cy="506.7" r="4.80"/><circle cx="1121.6" cy="506.7" r="4.80"/><circle cx="1134.8" cy="506.7" r="4.80"/><circle cx="1148.0" cy="506.7" r="4.80"/><circle cx="1161.1" cy="506.7" r="4.80"/><circle cx="1174.3" cy="506.7" r="4.80"/><circle cx="1187.5" cy="506.7" r="4.80"/><circle cx="1200.7" cy="506.7" r="4.80"/><circle cx="1213.8" cy="506.7" r="4.80"/><circle cx="1227.0" cy="506.7" r="4.80"/><circle cx="1240.2" cy="506.7" r="4.80"/><circle cx="1253.3" cy="506.7" r="4.80"/><circle cx="1266.5" cy="506.7" r="4.80"/><circle cx="1279.7" cy="506.7" r="4.80"/><circle cx="1292.9" cy="506.7" r="4.80"/><circle cx="1306.0" cy="506.7" r="4.80"/><circle cx="1319.2" cy="506.7" r="4.80"/><circle cx="1332.4" cy="506.7" r="4.80"/><circle cx="1345.5" cy="506.7" r="4.80"/><circle cx="1358.7" cy="506.7" r="4.80"/><circle cx="1371.9" cy="506.7" r="4.80"/><circle cx="1385.1" cy="506.7" r="4.80"/><circle cx="1398.2" cy="506.7" r="4.80"/><circle cx="1411.4" cy="506.7" r="4.80"/><circle cx="1450.9" cy="506.7" r="4.80"/><circle cx="1464.1" cy="506.7" r="4.80"/><circle cx="476.2" cy="519.9" r="4.80"/><circle cx="489.4" cy="519.9" r="4.80"/><circle cx="502.5" cy="519.9" r="4.80"/><circle cx="515.7" cy="519.9" r="4.80"/><circle cx="528.9" cy="519.9" r="4.80"/><circle cx="542.1" cy="519.9" r="4.80"/><circle cx="555.2" cy="519.9" r="4.80"/><circle cx="568.4" cy="519.9" r="4.80"/><circle cx="581.6" cy="519.9" r="4.80"/><circle cx="594.7" cy="519.9" r="4.80"/><circle cx="607.9" cy="519.9" r="4.80"/><circle cx="621.1" cy="519.9" r="4.80"/><circle cx="634.3" cy="519.9" r="4.80"/><circle cx="647.4" cy="519.9" r="4.80"/><circle cx="660.6" cy="519.9" r="4.80"/><circle cx="673.8" cy="519.9" r="4.80"/><circle cx="897.7" cy="519.9" r="4.80"/><circle cx="910.9" cy="519.9" r="4.80"/><circle cx="924.0" cy="519.9" r="4.80"/><circle cx="937.2" cy="519.9" r="4.80"/><circle cx="950.4" cy="519.9" r="4.80"/><circle cx="963.6" cy="519.9" r="4.80"/><circle cx="976.7" cy="519.9" r="4.80"/><circle cx="989.9" cy="519.9" r="4.80"/><circle cx="1003.1" cy="519.9" r="4.80"/><circle cx="1016.2" cy="519.9" r="4.80"/><circle cx="1029.4" cy="519.9" r="4.80"/><circle cx="1042.6" cy="519.9" r="4.80"/><circle cx="1055.8" cy="519.9" r="4.80"/><circle cx="1068.9" cy="519.9" r="4.80"/><circle cx="1082.1" cy="519.9" r="4.80"/><circle cx="1095.3" cy="519.9" r="4.80"/><circle cx="1108.4" cy="519.9" r="4.80"/><circle cx="1121.6" cy="519.9" r="4.80"/><circle cx="1134.8" cy="519.9" r="4.80"/><circle cx="1148.0" cy="519.9" r="4.80"/><circle cx="1161.1" cy="519.9" r="4.80"/><circle cx="1174.3" cy="519.9" r="4.80"/><circle cx="1187.5" cy="519.9" r="4.80"/><circle cx="1200.7" cy="519.9" r="4.80"/><circle cx="1213.8" cy="519.9" r="4.80"/><circle cx="1227.0" cy="519.9" r="4.80"/><circle cx="1240.2" cy="519.9" r="4.80"/><circle cx="1253.3" cy="519.9" r="4.80"/><circle cx="1266.5" cy="519.9" r="4.80"/><circle cx="1279.7" cy="519.9" r="4.80"/><circle cx="1292.9" cy="519.9" r="4.80"/><circle cx="1306.0" cy="519.9" r="4.80"/><circle cx="1319.2" cy="519.9" r="4.80"/><circle cx="1332.4" cy="519.9" r="4.80"/><circle cx="1345.5" cy="519.9" r="4.80"/><circle cx="1358.7" cy="519.9" r="4.80"/><circle cx="1371.9" cy="519.9" r="4.80"/><circle cx="1385.1" cy="519.9" r="4.80"/><circle cx="1398.2" cy="519.9" r="4.80"/><circle cx="1450.9" cy="519.9" r="4.80"/><circle cx="476.2" cy="533.1" r="4.80"/><circle cx="489.4" cy="533.1" r="4.80"/><circle cx="502.5" cy="533.1" r="4.80"/><circle cx="515.7" cy="533.1" r="4.80"/><circle cx="528.9" cy="533.1" r="4.80"/><circle cx="542.1" cy="533.1" r="4.80"/><circle cx="555.2" cy="533.1" r="4.80"/><circle cx="568.4" cy="533.1" r="4.80"/><circle cx="581.6" cy="533.1" r="4.80"/><circle cx="594.7" cy="533.1" r="4.80"/><circle cx="607.9" cy="533.1" r="4.80"/><circle cx="621.1" cy="533.1" r="4.80"/><circle cx="634.3" cy="533.1" r="4.80"/><circle cx="647.4" cy="533.1" r="4.80"/><circle cx="660.6" cy="533.1" r="4.80"/><circle cx="673.8" cy="533.1" r="4.80"/><circle cx="686.9" cy="533.1" r="4.80"/><circle cx="910.9" cy="533.1" r="4.80"/><circle cx="924.0" cy="533.1" r="4.80"/><circle cx="937.2" cy="533.1" r="4.80"/><circle cx="976.7" cy="533.1" r="4.80"/><circle cx="989.9" cy="533.1" r="4.80"/><circle cx="1003.1" cy="533.1" r="4.80"/><circle cx="1029.4" cy="533.1" r="4.80"/><circle cx="1055.8" cy="533.1" r="4.80"/><circle cx="1068.9" cy="533.1" r="4.80"/><circle cx="1108.4" cy="533.1" r="4.80"/><circle cx="1121.6" cy="533.1" r="4.80"/><circle cx="1134.8" cy="533.1" r="4.80"/><circle cx="1148.0" cy="533.1" r="4.80"/><circle cx="1161.1" cy="533.1" r="4.80"/><circle cx="1174.3" cy="533.1" r="4.80"/><circle cx="1187.5" cy="533.1" r="4.80"/><circle cx="1200.7" cy="533.1" r="4.80"/><circle cx="1213.8" cy="533.1" r="4.80"/><circle cx="1227.0" cy="533.1" r="4.80"/><circle cx="1240.2" cy="533.1" r="4.80"/><circle cx="1253.3" cy="533.1" r="4.80"/><circle cx="1266.5" cy="533.1" r="4.80"/><circle cx="1279.7" cy="533.1" r="4.80"/><circle cx="1292.9" cy="533.1" r="4.80"/><circle cx="1306.0" cy="533.1" r="4.80"/><circle cx="1319.2" cy="533.1" r="4.80"/><circle cx="1332.4" cy="533.1" r="4.80"/><circle cx="1345.5" cy="533.1" r="4.80"/><circle cx="1358.7" cy="533.1" r="4.80"/><circle cx="1371.9" cy="533.1" r="4.80"/><circle cx="1385.1" cy="533.1" r="4.80"/><circle cx="1398.2" cy="533.1" r="4.80"/><circle cx="1437.7" cy="533.1" r="4.80"/><circle cx="476.2" cy="546.3" r="4.80"/><circle cx="489.4" cy="546.3" r="4.80"/><circle cx="502.5" cy="546.3" r="4.80"/><circle cx="515.7" cy="546.3" r="4.80"/><circle cx="528.9" cy="546.3" r="4.80"/><circle cx="542.1" cy="546.3" r="4.80"/><circle cx="555.2" cy="546.3" r="4.80"/><circle cx="568.4" cy="546.3" r="4.80"/><circle cx="581.6" cy="546.3" r="4.80"/><circle cx="594.7" cy="546.3" r="4.80"/><circle cx="607.9" cy="546.3" r="4.80"/><circle cx="621.1" cy="546.3" r="4.80"/><circle cx="634.3" cy="546.3" r="4.80"/><circle cx="647.4" cy="546.3" r="4.80"/><circle cx="660.6" cy="546.3" r="4.80"/><circle cx="884.5" cy="546.3" r="4.80"/><circle cx="897.7" cy="546.3" r="4.80"/><circle cx="910.9" cy="546.3" r="4.80"/><circle cx="950.4" cy="546.3" r="4.80"/><circle cx="976.7" cy="546.3" r="4.80"/><circle cx="989.9" cy="546.3" r="4.80"/><circle cx="1003.1" cy="546.3" r="4.80"/><circle cx="1055.8" cy="546.3" r="4.80"/><circle cx="1068.9" cy="546.3" r="4.80"/><circle cx="1095.3" cy="546.3" r="4.80"/><circle cx="1108.4" cy="546.3" r="4.80"/><circle cx="1121.6" cy="546.3" r="4.80"/><circle cx="1134.8" cy="546.3" r="4.80"/><circle cx="1148.0" cy="546.3" r="4.80"/><circle cx="1161.1" cy="546.3" r="4.80"/><circle cx="1174.3" cy="546.3" r="4.80"/><circle cx="1187.5" cy="546.3" r="4.80"/><circle cx="1200.7" cy="546.3" r="4.80"/><circle cx="1213.8" cy="546.3" r="4.80"/><circle cx="1227.0" cy="546.3" r="4.80"/><circle cx="1240.2" cy="546.3" r="4.80"/><circle cx="1253.3" cy="546.3" r="4.80"/><circle cx="1266.5" cy="546.3" r="4.80"/><circle cx="1279.7" cy="546.3" r="4.80"/><circle cx="1292.9" cy="546.3" r="4.80"/><circle cx="1306.0" cy="546.3" r="4.80"/><circle cx="1319.2" cy="546.3" r="4.80"/><circle cx="1332.4" cy="546.3" r="4.80"/><circle cx="1345.5" cy="546.3" r="4.80"/><circle cx="1358.7" cy="546.3" r="4.80"/><circle cx="1371.9" cy="546.3" r="4.80"/><circle cx="1398.2" cy="546.3" r="4.80"/><circle cx="1411.4" cy="546.3" r="4.80"/><circle cx="1424.6" cy="546.3" r="4.80"/><circle cx="476.2" cy="559.5" r="4.80"/><circle cx="489.4" cy="559.5" r="4.80"/><circle cx="502.5" cy="559.5" r="4.80"/><circle cx="515.7" cy="559.5" r="4.80"/><circle cx="528.9" cy="559.5" r="4.80"/><circle cx="542.1" cy="559.5" r="4.80"/><circle cx="555.2" cy="559.5" r="4.80"/><circle cx="568.4" cy="559.5" r="4.80"/><circle cx="581.6" cy="559.5" r="4.80"/><circle cx="594.7" cy="559.5" r="4.80"/><circle cx="607.9" cy="559.5" r="4.80"/><circle cx="621.1" cy="559.5" r="4.80"/><circle cx="634.3" cy="559.5" r="4.80"/><circle cx="647.4" cy="559.5" r="4.80"/><circle cx="884.5" cy="559.5" r="4.80"/><circle cx="897.7" cy="559.5" r="4.80"/><circle cx="976.7" cy="559.5" r="4.80"/><circle cx="1003.1" cy="559.5" r="4.80"/><circle cx="1016.2" cy="559.5" r="4.80"/><circle cx="1029.4" cy="559.5" r="4.80"/><circle cx="1042.6" cy="559.5" r="4.80"/><circle cx="1055.8" cy="559.5" r="4.80"/><circle cx="1068.9" cy="559.5" r="4.80"/><circle cx="1095.3" cy="559.5" r="4.80"/><circle cx="1108.4" cy="559.5" r="4.80"/><circle cx="1121.6" cy="559.5" r="4.80"/><circle cx="1134.8" cy="559.5" r="4.80"/><circle cx="1148.0" cy="559.5" r="4.80"/><circle cx="1161.1" cy="559.5" r="4.80"/><circle cx="1174.3" cy="559.5" r="4.80"/><circle cx="1187.5" cy="559.5" r="4.80"/><circle cx="1200.7" cy="559.5" r="4.80"/><circle cx="1213.8" cy="559.5" r="4.80"/><circle cx="1227.0" cy="559.5" r="4.80"/><circle cx="1240.2" cy="559.5" r="4.80"/><circle cx="1253.3" cy="559.5" r="4.80"/><circle cx="1266.5" cy="559.5" r="4.80"/><circle cx="1279.7" cy="559.5" r="4.80"/><circle cx="1292.9" cy="559.5" r="4.80"/><circle cx="1306.0" cy="559.5" r="4.80"/><circle cx="1319.2" cy="559.5" r="4.80"/><circle cx="1332.4" cy="559.5" r="4.80"/><circle cx="1345.5" cy="559.5" r="4.80"/><circle cx="1358.7" cy="559.5" r="4.80"/><circle cx="1398.2" cy="559.5" r="4.80"/><circle cx="489.4" cy="572.7" r="4.80"/><circle cx="502.5" cy="572.7" r="4.80"/><circle cx="515.7" cy="572.7" r="4.80"/><circle cx="528.9" cy="572.7" r="4.80"/><circle cx="542.1" cy="572.7" r="4.80"/><circle cx="555.2" cy="572.7" r="4.80"/><circle cx="568.4" cy="572.7" r="4.80"/><circle cx="581.6" cy="572.7" r="4.80"/><circle cx="594.7" cy="572.7" r="4.80"/><circle cx="607.9" cy="572.7" r="4.80"/><circle cx="621.1" cy="572.7" r="4.80"/><circle cx="634.3" cy="572.7" r="4.80"/><circle cx="884.5" cy="572.7" r="4.80"/><circle cx="924.0" cy="572.7" r="4.80"/><circle cx="1016.2" cy="572.7" r="4.80"/><circle cx="1029.4" cy="572.7" r="4.80"/><circle cx="1042.6" cy="572.7" r="4.80"/><circle cx="1055.8" cy="572.7" r="4.80"/><circle cx="1068.9" cy="572.7" r="4.80"/><circle cx="1082.1" cy="572.7" r="4.80"/><circle cx="1095.3" cy="572.7" r="4.80"/><circle cx="1108.4" cy="572.7" r="4.80"/><circle cx="1121.6" cy="572.7" r="4.80"/><circle cx="1134.8" cy="572.7" r="4.80"/><circle cx="1148.0" cy="572.7" r="4.80"/><circle cx="1161.1" cy="572.7" r="4.80"/><circle cx="1174.3" cy="572.7" r="4.80"/><circle cx="1187.5" cy="572.7" r="4.80"/><circle cx="1200.7" cy="572.7" r="4.80"/><circle cx="1213.8" cy="572.7" r="4.80"/><circle cx="1227.0" cy="572.7" r="4.80"/><circle cx="1240.2" cy="572.7" r="4.80"/><circle cx="1253.3" cy="572.7" r="4.80"/><circle cx="1266.5" cy="572.7" r="4.80"/><circle cx="1279.7" cy="572.7" r="4.80"/><circle cx="1292.9" cy="572.7" r="4.80"/><circle cx="1306.0" cy="572.7" r="4.80"/><circle cx="1319.2" cy="572.7" r="4.80"/><circle cx="1332.4" cy="572.7" r="4.80"/><circle cx="1345.5" cy="572.7" r="4.80"/><circle cx="1358.7" cy="572.7" r="4.80"/><circle cx="1385.1" cy="572.7" r="4.80"/><circle cx="1398.2" cy="572.7" r="4.80"/><circle cx="502.5" cy="585.9" r="4.80"/><circle cx="515.7" cy="585.9" r="4.80"/><circle cx="528.9" cy="585.9" r="4.80"/><circle cx="542.1" cy="585.9" r="4.80"/><circle cx="555.2" cy="585.9" r="4.80"/><circle cx="568.4" cy="585.9" r="4.80"/><circle cx="581.6" cy="585.9" r="4.80"/><circle cx="594.7" cy="585.9" r="4.80"/><circle cx="607.9" cy="585.9" r="4.80"/><circle cx="621.1" cy="585.9" r="4.80"/><circle cx="634.3" cy="585.9" r="4.80"/><circle cx="884.5" cy="585.9" r="4.80"/><circle cx="897.7" cy="585.9" r="4.80"/><circle cx="910.9" cy="585.9" r="4.80"/><circle cx="924.0" cy="585.9" r="4.80"/><circle cx="937.2" cy="585.9" r="4.80"/><circle cx="1029.4" cy="585.9" r="4.80"/><circle cx="1042.6" cy="585.9" r="4.80"/><circle cx="1055.8" cy="585.9" r="4.80"/><circle cx="1068.9" cy="585.9" r="4.80"/><circle cx="1082.1" cy="585.9" r="4.80"/><circle cx="1095.3" cy="585.9" r="4.80"/><circle cx="1108.4" cy="585.9" r="4.80"/><circle cx="1121.6" cy="585.9" r="4.80"/><circle cx="1134.8" cy="585.9" r="4.80"/><circle cx="1148.0" cy="585.9" r="4.80"/><circle cx="1161.1" cy="585.9" r="4.80"/><circle cx="1174.3" cy="585.9" r="4.80"/><circle cx="1187.5" cy="585.9" r="4.80"/><circle cx="1200.7" cy="585.9" r="4.80"/><circle cx="1213.8" cy="585.9" r="4.80"/><circle cx="1227.0" cy="585.9" r="4.80"/><circle cx="1240.2" cy="585.9" r="4.80"/><circle cx="1253.3" cy="585.9" r="4.80"/><circle cx="1266.5" cy="585.9" r="4.80"/><circle cx="1279.7" cy="585.9" r="4.80"/><circle cx="1292.9" cy="585.9" r="4.80"/><circle cx="1306.0" cy="585.9" r="4.80"/><circle cx="1319.2" cy="585.9" r="4.80"/><circle cx="1358.7" cy="585.9" r="4.80"/><circle cx="1371.9" cy="585.9" r="4.80"/><circle cx="1385.1" cy="585.9" r="4.80"/><circle cx="1398.2" cy="585.9" r="4.80"/><circle cx="502.5" cy="599.2" r="4.80"/><circle cx="515.7" cy="599.2" r="4.80"/><circle cx="528.9" cy="599.2" r="4.80"/><circle cx="542.1" cy="599.2" r="4.80"/><circle cx="555.2" cy="599.2" r="4.80"/><circle cx="568.4" cy="599.2" r="4.80"/><circle cx="581.6" cy="599.2" r="4.80"/><circle cx="594.7" cy="599.2" r="4.80"/><circle cx="607.9" cy="599.2" r="4.80"/><circle cx="621.1" cy="599.2" r="4.80"/><circle cx="871.4" cy="599.2" r="4.80"/><circle cx="884.5" cy="599.2" r="4.80"/><circle cx="897.7" cy="599.2" r="4.80"/><circle cx="910.9" cy="599.2" r="4.80"/><circle cx="924.0" cy="599.2" r="4.80"/><circle cx="937.2" cy="599.2" r="4.80"/><circle cx="950.4" cy="599.2" r="4.80"/><circle cx="963.6" cy="599.2" r="4.80"/><circle cx="976.7" cy="599.2" r="4.80"/><circle cx="989.9" cy="599.2" r="4.80"/><circle cx="1003.1" cy="599.2" r="4.80"/><circle cx="1016.2" cy="599.2" r="4.80"/><circle cx="1029.4" cy="599.2" r="4.80"/><circle cx="1042.6" cy="599.2" r="4.80"/><circle cx="1055.8" cy="599.2" r="4.80"/><circle cx="1068.9" cy="599.2" r="4.80"/><circle cx="1095.3" cy="599.2" r="4.80"/><circle cx="1108.4" cy="599.2" r="4.80"/><circle cx="1121.6" cy="599.2" r="4.80"/><circle cx="1134.8" cy="599.2" r="4.80"/><circle cx="1148.0" cy="599.2" r="4.80"/><circle cx="1161.1" cy="599.2" r="4.80"/><circle cx="1174.3" cy="599.2" r="4.80"/><circle cx="1187.5" cy="599.2" r="4.80"/><circle cx="1200.7" cy="599.2" r="4.80"/><circle cx="1213.8" cy="599.2" r="4.80"/><circle cx="1227.0" cy="599.2" r="4.80"/><circle cx="1240.2" cy="599.2" r="4.80"/><circle cx="1253.3" cy="599.2" r="4.80"/><circle cx="1266.5" cy="599.2" r="4.80"/><circle cx="1279.7" cy="599.2" r="4.80"/><circle cx="1292.9" cy="599.2" r="4.80"/><circle cx="1306.0" cy="599.2" r="4.80"/><circle cx="1319.2" cy="599.2" r="4.80"/><circle cx="1332.4" cy="599.2" r="4.80"/><circle cx="1358.7" cy="599.2" r="4.80"/><circle cx="1398.2" cy="599.2" r="4.80"/><circle cx="515.7" cy="612.4" r="4.80"/><circle cx="528.9" cy="612.4" r="4.80"/><circle cx="542.1" cy="612.4" r="4.80"/><circle cx="555.2" cy="612.4" r="4.80"/><circle cx="568.4" cy="612.4" r="4.80"/><circle cx="621.1" cy="612.4" r="4.80"/><circle cx="858.2" cy="612.4" r="4.80"/><circle cx="871.4" cy="612.4" r="4.80"/><circle cx="884.5" cy="612.4" r="4.80"/><circle cx="897.7" cy="612.4" r="4.80"/><circle cx="910.9" cy="612.4" r="4.80"/><circle cx="924.0" cy="612.4" r="4.80"/><circle cx="937.2" cy="612.4" r="4.80"/><circle cx="950.4" cy="612.4" r="4.80"/><circle cx="963.6" cy="612.4" r="4.80"/><circle cx="976.7" cy="612.4" r="4.80"/><circle cx="989.9" cy="612.4" r="4.80"/><circle cx="1003.1" cy="612.4" r="4.80"/><circle cx="1016.2" cy="612.4" r="4.80"/><circle cx="1042.6" cy="612.4" r="4.80"/><circle cx="1055.8" cy="612.4" r="4.80"/><circle cx="1068.9" cy="612.4" r="4.80"/><circle cx="1121.6" cy="612.4" r="4.80"/><circle cx="1134.8" cy="612.4" r="4.80"/><circle cx="1148.0" cy="612.4" r="4.80"/><circle cx="1161.1" cy="612.4" r="4.80"/><circle cx="1174.3" cy="612.4" r="4.80"/><circle cx="1187.5" cy="612.4" r="4.80"/><circle cx="1200.7" cy="612.4" r="4.80"/><circle cx="1213.8" cy="612.4" r="4.80"/><circle cx="1227.0" cy="612.4" r="4.80"/><circle cx="1240.2" cy="612.4" r="4.80"/><circle cx="1253.3" cy="612.4" r="4.80"/><circle cx="1266.5" cy="612.4" r="4.80"/><circle cx="1279.7" cy="612.4" r="4.80"/><circle cx="1292.9" cy="612.4" r="4.80"/><circle cx="1306.0" cy="612.4" r="4.80"/><circle cx="1319.2" cy="612.4" r="4.80"/><circle cx="1332.4" cy="612.4" r="4.80"/><circle cx="515.7" cy="625.6" r="4.80"/><circle cx="528.9" cy="625.6" r="4.80"/><circle cx="542.1" cy="625.6" r="4.80"/><circle cx="555.2" cy="625.6" r="4.80"/><circle cx="568.4" cy="625.6" r="4.80"/><circle cx="621.1" cy="625.6" r="4.80"/><circle cx="858.2" cy="625.6" r="4.80"/><circle cx="871.4" cy="625.6" r="4.80"/><circle cx="884.5" cy="625.6" r="4.80"/><circle cx="897.7" cy="625.6" r="4.80"/><circle cx="910.9" cy="625.6" r="4.80"/><circle cx="924.0" cy="625.6" r="4.80"/><circle cx="937.2" cy="625.6" r="4.80"/><circle cx="950.4" cy="625.6" r="4.80"/><circle cx="963.6" cy="625.6" r="4.80"/><circle cx="976.7" cy="625.6" r="4.80"/><circle cx="989.9" cy="625.6" r="4.80"/><circle cx="1003.1" cy="625.6" r="4.80"/><circle cx="1016.2" cy="625.6" r="4.80"/><circle cx="1029.4" cy="625.6" r="4.80"/><circle cx="1055.8" cy="625.6" r="4.80"/><circle cx="1068.9" cy="625.6" r="4.80"/><circle cx="1082.1" cy="625.6" r="4.80"/><circle cx="1095.3" cy="625.6" r="4.80"/><circle cx="1108.4" cy="625.6" r="4.80"/><circle cx="1148.0" cy="625.6" r="4.80"/><circle cx="1161.1" cy="625.6" r="4.80"/><circle cx="1174.3" cy="625.6" r="4.80"/><circle cx="1187.5" cy="625.6" r="4.80"/><circle cx="1200.7" cy="625.6" r="4.80"/><circle cx="1213.8" cy="625.6" r="4.80"/><circle cx="1227.0" cy="625.6" r="4.80"/><circle cx="1240.2" cy="625.6" r="4.80"/><circle cx="1253.3" cy="625.6" r="4.80"/><circle cx="1266.5" cy="625.6" r="4.80"/><circle cx="1279.7" cy="625.6" r="4.80"/><circle cx="1292.9" cy="625.6" r="4.80"/><circle cx="1306.0" cy="625.6" r="4.80"/><circle cx="1319.2" cy="625.6" r="4.80"/><circle cx="1332.4" cy="625.6" r="4.80"/><circle cx="542.1" cy="638.8" r="4.80"/><circle cx="555.2" cy="638.8" r="4.80"/><circle cx="568.4" cy="638.8" r="4.80"/><circle cx="594.7" cy="638.8" r="4.80"/><circle cx="634.3" cy="638.8" r="4.80"/><circle cx="647.4" cy="638.8" r="4.80"/><circle cx="858.2" cy="638.8" r="4.80"/><circle cx="871.4" cy="638.8" r="4.80"/><circle cx="884.5" cy="638.8" r="4.80"/><circle cx="897.7" cy="638.8" r="4.80"/><circle cx="910.9" cy="638.8" r="4.80"/><circle cx="924.0" cy="638.8" r="4.80"/><circle cx="937.2" cy="638.8" r="4.80"/><circle cx="950.4" cy="638.8" r="4.80"/><circle cx="963.6" cy="638.8" r="4.80"/><circle cx="976.7" cy="638.8" r="4.80"/><circle cx="989.9" cy="638.8" r="4.80"/><circle cx="1003.1" cy="638.8" r="4.80"/><circle cx="1016.2" cy="638.8" r="4.80"/><circle cx="1029.4" cy="638.8" r="4.80"/><circle cx="1055.8" cy="638.8" r="4.80"/><circle cx="1068.9" cy="638.8" r="4.80"/><circle cx="1082.1" cy="638.8" r="4.80"/><circle cx="1095.3" cy="638.8" r="4.80"/><circle cx="1108.4" cy="638.8" r="4.80"/><circle cx="1148.0" cy="638.8" r="4.80"/><circle cx="1161.1" cy="638.8" r="4.80"/><circle cx="1174.3" cy="638.8" r="4.80"/><circle cx="1187.5" cy="638.8" r="4.80"/><circle cx="1200.7" cy="638.8" r="4.80"/><circle cx="1240.2" cy="638.8" r="4.80"/><circle cx="1253.3" cy="638.8" r="4.80"/><circle cx="1266.5" cy="638.8" r="4.80"/><circle cx="1279.7" cy="638.8" r="4.80"/><circle cx="1292.9" cy="638.8" r="4.80"/><circle cx="555.2" cy="652.0" r="4.80"/><circle cx="568.4" cy="652.0" r="4.80"/><circle cx="581.6" cy="652.0" r="4.80"/><circle cx="594.7" cy="652.0" r="4.80"/><circle cx="660.6" cy="652.0" r="4.80"/><circle cx="858.2" cy="652.0" r="4.80"/><circle cx="871.4" cy="652.0" r="4.80"/><circle cx="884.5" cy="652.0" r="4.80"/><circle cx="897.7" cy="652.0" r="4.80"/><circle cx="910.9" cy="652.0" r="4.80"/><circle cx="924.0" cy="652.0" r="4.80"/><circle cx="937.2" cy="652.0" r="4.80"/><circle cx="950.4" cy="652.0" r="4.80"/><circle cx="963.6" cy="652.0" r="4.80"/><circle cx="976.7" cy="652.0" r="4.80"/><circle cx="989.9" cy="652.0" r="4.80"/><circle cx="1003.1" cy="652.0" r="4.80"/><circle cx="1016.2" cy="652.0" r="4.80"/><circle cx="1029.4" cy="652.0" r="4.80"/><circle cx="1068.9" cy="652.0" r="4.80"/><circle cx="1082.1" cy="652.0" r="4.80"/><circle cx="1095.3" cy="652.0" r="4.80"/><circle cx="1161.1" cy="652.0" r="4.80"/><circle cx="1174.3" cy="652.0" r="4.80"/><circle cx="1187.5" cy="652.0" r="4.80"/><circle cx="1200.7" cy="652.0" r="4.80"/><circle cx="1240.2" cy="652.0" r="4.80"/><circle cx="1253.3" cy="652.0" r="4.80"/><circle cx="1266.5" cy="652.0" r="4.80"/><circle cx="1279.7" cy="652.0" r="4.80"/><circle cx="1332.4" cy="652.0" r="4.80"/><circle cx="594.7" cy="665.2" r="4.80"/><circle cx="607.9" cy="665.2" r="4.80"/><circle cx="858.2" cy="665.2" r="4.80"/><circle cx="871.4" cy="665.2" r="4.80"/><circle cx="884.5" cy="665.2" r="4.80"/><circle cx="897.7" cy="665.2" r="4.80"/><circle cx="910.9" cy="665.2" r="4.80"/><circle cx="924.0" cy="665.2" r="4.80"/><circle cx="937.2" cy="665.2" r="4.80"/><circle cx="950.4" cy="665.2" r="4.80"/><circle cx="963.6" cy="665.2" r="4.80"/><circle cx="976.7" cy="665.2" r="4.80"/><circle cx="989.9" cy="665.2" r="4.80"/><circle cx="1003.1" cy="665.2" r="4.80"/><circle cx="1016.2" cy="665.2" r="4.80"/><circle cx="1029.4" cy="665.2" r="4.80"/><circle cx="1042.6" cy="665.2" r="4.80"/><circle cx="1068.9" cy="665.2" r="4.80"/><circle cx="1174.3" cy="665.2" r="4.80"/><circle cx="1187.5" cy="665.2" r="4.80"/><circle cx="1253.3" cy="665.2" r="4.80"/><circle cx="1266.5" cy="665.2" r="4.80"/><circle cx="1279.7" cy="665.2" r="4.80"/><circle cx="1332.4" cy="665.2" r="4.80"/><circle cx="607.9" cy="678.4" r="4.80"/><circle cx="621.1" cy="678.4" r="4.80"/><circle cx="634.3" cy="678.4" r="4.80"/><circle cx="647.4" cy="678.4" r="4.80"/><circle cx="660.6" cy="678.4" r="4.80"/><circle cx="673.8" cy="678.4" r="4.80"/><circle cx="686.9" cy="678.4" r="4.80"/><circle cx="858.2" cy="678.4" r="4.80"/><circle cx="871.4" cy="678.4" r="4.80"/><circle cx="884.5" cy="678.4" r="4.80"/><circle cx="897.7" cy="678.4" r="4.80"/><circle cx="910.9" cy="678.4" r="4.80"/><circle cx="924.0" cy="678.4" r="4.80"/><circle cx="937.2" cy="678.4" r="4.80"/><circle cx="950.4" cy="678.4" r="4.80"/><circle cx="963.6" cy="678.4" r="4.80"/><circle cx="976.7" cy="678.4" r="4.80"/><circle cx="989.9" cy="678.4" r="4.80"/><circle cx="1003.1" cy="678.4" r="4.80"/><circle cx="1016.2" cy="678.4" r="4.80"/><circle cx="1029.4" cy="678.4" r="4.80"/><circle cx="1042.6" cy="678.4" r="4.80"/><circle cx="1055.8" cy="678.4" r="4.80"/><circle cx="1068.9" cy="678.4" r="4.80"/><circle cx="1082.1" cy="678.4" r="4.80"/><circle cx="1174.3" cy="678.4" r="4.80"/><circle cx="1253.3" cy="678.4" r="4.80"/><circle cx="1279.7" cy="678.4" r="4.80"/><circle cx="1332.4" cy="678.4" r="4.80"/><circle cx="1345.5" cy="678.4" r="4.80"/><circle cx="647.4" cy="691.6" r="4.80"/><circle cx="660.6" cy="691.6" r="4.80"/><circle cx="673.8" cy="691.6" r="4.80"/><circle cx="686.9" cy="691.6" r="4.80"/><circle cx="700.1" cy="691.6" r="4.80"/><circle cx="871.4" cy="691.6" r="4.80"/><circle cx="884.5" cy="691.6" r="4.80"/><circle cx="897.7" cy="691.6" r="4.80"/><circle cx="937.2" cy="691.6" r="4.80"/><circle cx="950.4" cy="691.6" r="4.80"/><circle cx="963.6" cy="691.6" r="4.80"/><circle cx="976.7" cy="691.6" r="4.80"/><circle cx="989.9" cy="691.6" r="4.80"/><circle cx="1003.1" cy="691.6" r="4.80"/><circle cx="1016.2" cy="691.6" r="4.80"/><circle cx="1029.4" cy="691.6" r="4.80"/><circle cx="1042.6" cy="691.6" r="4.80"/><circle cx="1055.8" cy="691.6" r="4.80"/><circle cx="1068.9" cy="691.6" r="4.80"/><circle cx="1082.1" cy="691.6" r="4.80"/><circle cx="1253.3" cy="691.6" r="4.80"/><circle cx="1266.5" cy="691.6" r="4.80"/><circle cx="1332.4" cy="691.6" r="4.80"/><circle cx="1345.5" cy="691.6" r="4.80"/><circle cx="647.4" cy="704.8" r="4.80"/><circle cx="660.6" cy="704.8" r="4.80"/><circle cx="673.8" cy="704.8" r="4.80"/><circle cx="686.9" cy="704.8" r="4.80"/><circle cx="700.1" cy="704.8" r="4.80"/><circle cx="713.3" cy="704.8" r="4.80"/><circle cx="726.5" cy="704.8" r="4.80"/><circle cx="937.2" cy="704.8" r="4.80"/><circle cx="950.4" cy="704.8" r="4.80"/><circle cx="963.6" cy="704.8" r="4.80"/><circle cx="976.7" cy="704.8" r="4.80"/><circle cx="989.9" cy="704.8" r="4.80"/><circle cx="1003.1" cy="704.8" r="4.80"/><circle cx="1016.2" cy="704.8" r="4.80"/><circle cx="1029.4" cy="704.8" r="4.80"/><circle cx="1042.6" cy="704.8" r="4.80"/><circle cx="1055.8" cy="704.8" r="4.80"/><circle cx="1068.9" cy="704.8" r="4.80"/><circle cx="1240.2" cy="704.8" r="4.80"/><circle cx="1253.3" cy="704.8" r="4.80"/><circle cx="1266.5" cy="704.8" r="4.80"/><circle cx="1306.0" cy="704.8" r="4.80"/><circle cx="1319.2" cy="704.8" r="4.80"/><circle cx="634.3" cy="718.1" r="4.80"/><circle cx="647.4" cy="718.1" r="4.80"/><circle cx="660.6" cy="718.1" r="4.80"/><circle cx="673.8" cy="718.1" r="4.80"/><circle cx="686.9" cy="718.1" r="4.80"/><circle cx="700.1" cy="718.1" r="4.80"/><circle cx="713.3" cy="718.1" r="4.80"/><circle cx="726.5" cy="718.1" r="4.80"/><circle cx="739.6" cy="718.1" r="4.80"/><circle cx="937.2" cy="718.1" r="4.80"/><circle cx="950.4" cy="718.1" r="4.80"/><circle cx="963.6" cy="718.1" r="4.80"/><circle cx="976.7" cy="718.1" r="4.80"/><circle cx="989.9" cy="718.1" r="4.80"/><circle cx="1003.1" cy="718.1" r="4.80"/><circle cx="1016.2" cy="718.1" r="4.80"/><circle cx="1029.4" cy="718.1" r="4.80"/><circle cx="1042.6" cy="718.1" r="4.80"/><circle cx="1055.8" cy="718.1" r="4.80"/><circle cx="1253.3" cy="718.1" r="4.80"/><circle cx="1266.5" cy="718.1" r="4.80"/><circle cx="1292.9" cy="718.1" r="4.80"/><circle cx="1306.0" cy="718.1" r="4.80"/><circle cx="1319.2" cy="718.1" r="4.80"/><circle cx="1332.4" cy="718.1" r="4.80"/><circle cx="1371.9" cy="718.1" r="4.80"/><circle cx="634.3" cy="731.3" r="4.80"/><circle cx="647.4" cy="731.3" r="4.80"/><circle cx="660.6" cy="731.3" r="4.80"/><circle cx="673.8" cy="731.3" r="4.80"/><circle cx="686.9" cy="731.3" r="4.80"/><circle cx="700.1" cy="731.3" r="4.80"/><circle cx="713.3" cy="731.3" r="4.80"/><circle cx="726.5" cy="731.3" r="4.80"/><circle cx="739.6" cy="731.3" r="4.80"/><circle cx="752.8" cy="731.3" r="4.80"/><circle cx="766.0" cy="731.3" r="4.80"/><circle cx="950.4" cy="731.3" r="4.80"/><circle cx="963.6" cy="731.3" r="4.80"/><circle cx="976.7" cy="731.3" r="4.80"/><circle cx="989.9" cy="731.3" r="4.80"/><circle cx="1003.1" cy="731.3" r="4.80"/><circle cx="1016.2" cy="731.3" r="4.80"/><circle cx="1029.4" cy="731.3" r="4.80"/><circle cx="1042.6" cy="731.3" r="4.80"/><circle cx="1253.3" cy="731.3" r="4.80"/><circle cx="1266.5" cy="731.3" r="4.80"/><circle cx="1279.7" cy="731.3" r="4.80"/><circle cx="1292.9" cy="731.3" r="4.80"/><circle cx="1306.0" cy="731.3" r="4.80"/><circle cx="1319.2" cy="731.3" r="4.80"/><circle cx="1332.4" cy="731.3" r="4.80"/><circle cx="1358.7" cy="731.3" r="4.80"/><circle cx="1371.9" cy="731.3" r="4.80"/><circle cx="1385.1" cy="731.3" r="4.80"/><circle cx="1398.2" cy="731.3" r="4.80"/><circle cx="1411.4" cy="731.3" r="4.80"/><circle cx="634.3" cy="744.5" r="4.80"/><circle cx="647.4" cy="744.5" r="4.80"/><circle cx="660.6" cy="744.5" r="4.80"/><circle cx="673.8" cy="744.5" r="4.80"/><circle cx="686.9" cy="744.5" r="4.80"/><circle cx="700.1" cy="744.5" r="4.80"/><circle cx="713.3" cy="744.5" r="4.80"/><circle cx="726.5" cy="744.5" r="4.80"/><circle cx="739.6" cy="744.5" r="4.80"/><circle cx="752.8" cy="744.5" r="4.80"/><circle cx="766.0" cy="744.5" r="4.80"/><circle cx="779.1" cy="744.5" r="4.80"/><circle cx="963.6" cy="744.5" r="4.80"/><circle cx="976.7" cy="744.5" r="4.80"/><circle cx="989.9" cy="744.5" r="4.80"/><circle cx="1003.1" cy="744.5" r="4.80"/><circle cx="1016.2" cy="744.5" r="4.80"/><circle cx="1029.4" cy="744.5" r="4.80"/><circle cx="1042.6" cy="744.5" r="4.80"/><circle cx="1279.7" cy="744.5" r="4.80"/><circle cx="1292.9" cy="744.5" r="4.80"/><circle cx="1306.0" cy="744.5" r="4.80"/><circle cx="1398.2" cy="744.5" r="4.80"/><circle cx="1411.4" cy="744.5" r="4.80"/><circle cx="1424.6" cy="744.5" r="4.80"/><circle cx="1437.7" cy="744.5" r="4.80"/><circle cx="634.3" cy="757.7" r="4.80"/><circle cx="647.4" cy="757.7" r="4.80"/><circle cx="660.6" cy="757.7" r="4.80"/><circle cx="673.8" cy="757.7" r="4.80"/><circle cx="686.9" cy="757.7" r="4.80"/><circle cx="700.1" cy="757.7" r="4.80"/><circle cx="713.3" cy="757.7" r="4.80"/><circle cx="726.5" cy="757.7" r="4.80"/><circle cx="739.6" cy="757.7" r="4.80"/><circle cx="752.8" cy="757.7" r="4.80"/><circle cx="766.0" cy="757.7" r="4.80"/><circle cx="779.1" cy="757.7" r="4.80"/><circle cx="963.6" cy="757.7" r="4.80"/><circle cx="976.7" cy="757.7" r="4.80"/><circle cx="989.9" cy="757.7" r="4.80"/><circle cx="1003.1" cy="757.7" r="4.80"/><circle cx="1016.2" cy="757.7" r="4.80"/><circle cx="1029.4" cy="757.7" r="4.80"/><circle cx="1042.6" cy="757.7" r="4.80"/><circle cx="1319.2" cy="757.7" r="4.80"/><circle cx="1332.4" cy="757.7" r="4.80"/><circle cx="1424.6" cy="757.7" r="4.80"/><circle cx="1437.7" cy="757.7" r="4.80"/><circle cx="647.4" cy="770.9" r="4.80"/><circle cx="660.6" cy="770.9" r="4.80"/><circle cx="673.8" cy="770.9" r="4.80"/><circle cx="686.9" cy="770.9" r="4.80"/><circle cx="700.1" cy="770.9" r="4.80"/><circle cx="713.3" cy="770.9" r="4.80"/><circle cx="726.5" cy="770.9" r="4.80"/><circle cx="739.6" cy="770.9" r="4.80"/><circle cx="752.8" cy="770.9" r="4.80"/><circle cx="766.0" cy="770.9" r="4.80"/><circle cx="950.4" cy="770.9" r="4.80"/><circle cx="963.6" cy="770.9" r="4.80"/><circle cx="976.7" cy="770.9" r="4.80"/><circle cx="989.9" cy="770.9" r="4.80"/><circle cx="1003.1" cy="770.9" r="4.80"/><circle cx="1016.2" cy="770.9" r="4.80"/><circle cx="1029.4" cy="770.9" r="4.80"/><circle cx="1042.6" cy="770.9" r="4.80"/><circle cx="1068.9" cy="770.9" r="4.80"/><circle cx="1082.1" cy="770.9" r="4.80"/><circle cx="1358.7" cy="770.9" r="4.80"/><circle cx="1371.9" cy="770.9" r="4.80"/><circle cx="1385.1" cy="770.9" r="4.80"/><circle cx="1398.2" cy="770.9" r="4.80"/><circle cx="1411.4" cy="770.9" r="4.80"/><circle cx="660.6" cy="784.1" r="4.80"/><circle cx="673.8" cy="784.1" r="4.80"/><circle cx="686.9" cy="784.1" r="4.80"/><circle cx="700.1" cy="784.1" r="4.80"/><circle cx="713.3" cy="784.1" r="4.80"/><circle cx="726.5" cy="784.1" r="4.80"/><circle cx="739.6" cy="784.1" r="4.80"/><circle cx="752.8" cy="784.1" r="4.80"/><circle cx="766.0" cy="784.1" r="4.80"/><circle cx="950.4" cy="784.1" r="4.80"/><circle cx="963.6" cy="784.1" r="4.80"/><circle cx="976.7" cy="784.1" r="4.80"/><circle cx="989.9" cy="784.1" r="4.80"/><circle cx="1003.1" cy="784.1" r="4.80"/><circle cx="1016.2" cy="784.1" r="4.80"/><circle cx="1029.4" cy="784.1" r="4.80"/><circle cx="1068.9" cy="784.1" r="4.80"/><circle cx="1082.1" cy="784.1" r="4.80"/><circle cx="1332.4" cy="784.1" r="4.80"/><circle cx="1345.5" cy="784.1" r="4.80"/><circle cx="1358.7" cy="784.1" r="4.80"/><circle cx="1371.9" cy="784.1" r="4.80"/><circle cx="1385.1" cy="784.1" r="4.80"/><circle cx="1398.2" cy="784.1" r="4.80"/><circle cx="1411.4" cy="784.1" r="4.80"/><circle cx="660.6" cy="797.3" r="4.80"/><circle cx="673.8" cy="797.3" r="4.80"/><circle cx="686.9" cy="797.3" r="4.80"/><circle cx="700.1" cy="797.3" r="4.80"/><circle cx="713.3" cy="797.3" r="4.80"/><circle cx="726.5" cy="797.3" r="4.80"/><circle cx="739.6" cy="797.3" r="4.80"/><circle cx="752.8" cy="797.3" r="4.80"/><circle cx="766.0" cy="797.3" r="4.80"/><circle cx="963.6" cy="797.3" r="4.80"/><circle cx="976.7" cy="797.3" r="4.80"/><circle cx="989.9" cy="797.3" r="4.80"/><circle cx="1003.1" cy="797.3" r="4.80"/><circle cx="1016.2" cy="797.3" r="4.80"/><circle cx="1029.4" cy="797.3" r="4.80"/><circle cx="1068.9" cy="797.3" r="4.80"/><circle cx="1306.0" cy="797.3" r="4.80"/><circle cx="1319.2" cy="797.3" r="4.80"/><circle cx="1332.4" cy="797.3" r="4.80"/><circle cx="1345.5" cy="797.3" r="4.80"/><circle cx="1358.7" cy="797.3" r="4.80"/><circle cx="1371.9" cy="797.3" r="4.80"/><circle cx="1385.1" cy="797.3" r="4.80"/><circle cx="1398.2" cy="797.3" r="4.80"/><circle cx="1411.4" cy="797.3" r="4.80"/><circle cx="1424.6" cy="797.3" r="4.80"/><circle cx="1437.7" cy="797.3" r="4.80"/><circle cx="660.6" cy="810.5" r="4.80"/><circle cx="673.8" cy="810.5" r="4.80"/><circle cx="686.9" cy="810.5" r="4.80"/><circle cx="700.1" cy="810.5" r="4.80"/><circle cx="713.3" cy="810.5" r="4.80"/><circle cx="726.5" cy="810.5" r="4.80"/><circle cx="739.6" cy="810.5" r="4.80"/><circle cx="963.6" cy="810.5" r="4.80"/><circle cx="976.7" cy="810.5" r="4.80"/><circle cx="989.9" cy="810.5" r="4.80"/><circle cx="1003.1" cy="810.5" r="4.80"/><circle cx="1016.2" cy="810.5" r="4.80"/><circle cx="1029.4" cy="810.5" r="4.80"/><circle cx="1068.9" cy="810.5" r="4.80"/><circle cx="1306.0" cy="810.5" r="4.80"/><circle cx="1319.2" cy="810.5" r="4.80"/><circle cx="1332.4" cy="810.5" r="4.80"/><circle cx="1345.5" cy="810.5" r="4.80"/><circle cx="1358.7" cy="810.5" r="4.80"/><circle cx="1371.9" cy="810.5" r="4.80"/><circle cx="1385.1" cy="810.5" r="4.80"/><circle cx="1398.2" cy="810.5" r="4.80"/><circle cx="1411.4" cy="810.5" r="4.80"/><circle cx="1424.6" cy="810.5" r="4.80"/><circle cx="1437.7" cy="810.5" r="4.80"/><circle cx="660.6" cy="823.7" r="4.80"/><circle cx="673.8" cy="823.7" r="4.80"/><circle cx="686.9" cy="823.7" r="4.80"/><circle cx="700.1" cy="823.7" r="4.80"/><circle cx="713.3" cy="823.7" r="4.80"/><circle cx="726.5" cy="823.7" r="4.80"/><circle cx="739.6" cy="823.7" r="4.80"/><circle cx="963.6" cy="823.7" r="4.80"/><circle cx="976.7" cy="823.7" r="4.80"/><circle cx="989.9" cy="823.7" r="4.80"/><circle cx="1003.1" cy="823.7" r="4.80"/><circle cx="1016.2" cy="823.7" r="4.80"/><circle cx="1306.0" cy="823.7" r="4.80"/><circle cx="1319.2" cy="823.7" r="4.80"/><circle cx="1332.4" cy="823.7" r="4.80"/><circle cx="1345.5" cy="823.7" r="4.80"/><circle cx="1358.7" cy="823.7" r="4.80"/><circle cx="1371.9" cy="823.7" r="4.80"/><circle cx="1385.1" cy="823.7" r="4.80"/><circle cx="1398.2" cy="823.7" r="4.80"/><circle cx="1411.4" cy="823.7" r="4.80"/><circle cx="1424.6" cy="823.7" r="4.80"/><circle cx="1437.7" cy="823.7" r="4.80"/><circle cx="660.6" cy="837.0" r="4.80"/><circle cx="673.8" cy="837.0" r="4.80"/><circle cx="686.9" cy="837.0" r="4.80"/><circle cx="700.1" cy="837.0" r="4.80"/><circle cx="713.3" cy="837.0" r="4.80"/><circle cx="726.5" cy="837.0" r="4.80"/><circle cx="976.7" cy="837.0" r="4.80"/><circle cx="989.9" cy="837.0" r="4.80"/><circle cx="1003.1" cy="837.0" r="4.80"/><circle cx="1016.2" cy="837.0" r="4.80"/><circle cx="1319.2" cy="837.0" r="4.80"/><circle cx="1332.4" cy="837.0" r="4.80"/><circle cx="1345.5" cy="837.0" r="4.80"/><circle cx="1358.7" cy="837.0" r="4.80"/><circle cx="1371.9" cy="837.0" r="4.80"/><circle cx="1385.1" cy="837.0" r="4.80"/><circle cx="1398.2" cy="837.0" r="4.80"/><circle cx="1411.4" cy="837.0" r="4.80"/><circle cx="1424.6" cy="837.0" r="4.80"/><circle cx="1437.7" cy="837.0" r="4.80"/><circle cx="660.6" cy="850.2" r="4.80"/><circle cx="673.8" cy="850.2" r="4.80"/><circle cx="686.9" cy="850.2" r="4.80"/><circle cx="700.1" cy="850.2" r="4.80"/><circle cx="713.3" cy="850.2" r="4.80"/><circle cx="976.7" cy="850.2" r="4.80"/><circle cx="989.9" cy="850.2" r="4.80"/><circle cx="1003.1" cy="850.2" r="4.80"/><circle cx="1319.2" cy="850.2" r="4.80"/><circle cx="1332.4" cy="850.2" r="4.80"/><circle cx="1345.5" cy="850.2" r="4.80"/><circle cx="1371.9" cy="850.2" r="4.80"/><circle cx="1385.1" cy="850.2" r="4.80"/><circle cx="1398.2" cy="850.2" r="4.80"/><circle cx="1411.4" cy="850.2" r="4.80"/><circle cx="1424.6" cy="850.2" r="4.80"/><circle cx="1437.7" cy="850.2" r="4.80"/><circle cx="660.6" cy="863.4" r="4.80"/><circle cx="673.8" cy="863.4" r="4.80"/><circle cx="686.9" cy="863.4" r="4.80"/><circle cx="700.1" cy="863.4" r="4.80"/><circle cx="1398.2" cy="863.4" r="4.80"/><circle cx="1411.4" cy="863.4" r="4.80"/><circle cx="1424.6" cy="863.4" r="4.80"/><circle cx="1516.8" cy="863.4" r="4.80"/><circle cx="1530.0" cy="863.4" r="4.80"/><circle cx="647.4" cy="876.6" r="4.80"/><circle cx="660.6" cy="876.6" r="4.80"/><circle cx="673.8" cy="876.6" r="4.80"/><circle cx="686.9" cy="876.6" r="4.80"/><circle cx="1411.4" cy="876.6" r="4.80"/><circle cx="1516.8" cy="876.6" r="4.80"/><circle cx="1530.0" cy="876.6" r="4.80"/><circle cx="660.6" cy="889.8" r="4.80"/><circle cx="673.8" cy="889.8" r="4.80"/><circle cx="1503.6" cy="889.8" r="4.80"/><circle cx="1516.8" cy="889.8" r="4.80"/><circle cx="660.6" cy="903.0" r="4.80"/><circle cx="673.8" cy="903.0" r="4.80"/><circle cx="1490.4" cy="903.0" r="4.80"/><circle cx="1503.6" cy="903.0" r="4.80"/><circle cx="647.4" cy="916.2" r="4.80"/><circle cx="660.6" cy="916.2" r="4.80"/><circle cx="673.8" cy="916.2" r="4.80"/><circle cx="647.4" cy="929.4" r="4.80"/><circle cx="660.6" cy="929.4" r="4.80"/><circle cx="660.6" cy="942.6" r="4.80"/><circle cx="673.8" cy="942.6" r="4.80"/>
</g>
<rect x="40.0" y="50.2" width="401.0" height="4.3" fill="#ed1c24"/>
<rect x="616.0" y="50.2" width="456.0" height="4.3" fill="#ed1c24"/>
<rect x="1199.0" y="50.2" width="502.0" height="4.3" fill="#ed1c24"/>
<rect x="40.0" y="1175.7" width="469.0" height="4.3" fill="#ed1c24"/>
<rect x="616.0" y="1175.9" width="503.0" height="4.3" fill="#ed1c24"/>
<rect x="1198.5" y="1175.9" width="502.5" height="4.3" fill="#ed1c24"/>
<g fill="none" stroke="#ed1c24" stroke-width="4.1">
<circle cx="566.0" cy="552.2" r="80.9"/>
<path d="M376.0,331.0 L510.9,494.9"/>
<circle cx="992.8" cy="499.4" r="50.5"/>
<path d="M818.0,284.0 L948.6,475.9"/>
<circle cx="1012.8" cy="457.5" r="50.5"/>
<path d="M1202.9,238.0 L1048.1,420.8"/>
<circle cx="1183.8" cy="598.8" r="50.7"/>
<path d="M1148.9,635.5 L884.1,1002.7"/>
<circle cx="722.9" cy="734.1" r="80.8"/>
<path d="M667.4,792.8 L443.8,984.0"/>
<circle cx="1366.0" cy="817.3" r="50.6"/>
<path d="M1365.4,867.5 L1365.4,956.8"/>
</g>
<text class="b" x="39.0" y="112.6" font-size="37.5" textLength="79.0" lengthAdjust="spacingAndGlyphs">USA,</text>
<text class="r" x="124.4" y="113.2" font-size="41.0" textLength="317.3" lengthAdjust="spacingAndGlyphs">passed in July 2020</text>
<g transform="translate(40.0,142.0)"><rect width="35" height="35" fill="#0068b4"/><path d="M0,17.1 H27" stroke="#fff" stroke-width="4.3" fill="none"/><path d="M14,2.2 L29.8,17.1 L14.1,32" stroke="#fff" stroke-width="4.2" fill="none" stroke-linejoin="miter"/></g>
<text class="t" x="85.5" y="180.0" font-size="45.0" textLength="238.0" lengthAdjust="spacingAndGlyphs">Eliminating</text>
<text class="t" x="40.5" y="225.6" font-size="45.0" textLength="442.0" lengthAdjust="spacingAndGlyphs">Abusive and Rampant</text>
<text class="t" x="38.5" y="271.1" font-size="45.0" textLength="437.5" lengthAdjust="spacingAndGlyphs">Neglect of Interactive</text>
<text class="t" x="40.5" y="316.3" font-size="45.0" textLength="341.5" lengthAdjust="spacingAndGlyphs">Technologies Act</text>
<text class="b" x="618.0" y="112.6" font-size="37.5" textLength="123.5" lengthAdjust="spacingAndGlyphs">France,</text>
<text class="r" x="747.4" y="113.2" font-size="41.0" textLength="320.3" lengthAdjust="spacingAndGlyphs">passed in May 2020</text>
<g transform="translate(619.8,142.0)"><rect width="35" height="35" fill="#0068b4"/><path d="M0,17.1 H27" stroke="#fff" stroke-width="4.3" fill="none"/><path d="M14,2.2 L29.8,17.1 L14.1,32" stroke="#fff" stroke-width="4.2" fill="none" stroke-linejoin="miter"/></g>
<text class="t" x="665.5" y="180.1" font-size="45.0" textLength="422.0" lengthAdjust="spacingAndGlyphs">Lutte Contre la Haine</text>
<text class="t" x="619.5" y="225.8" font-size="45.0" textLength="471.5" lengthAdjust="spacingAndGlyphs">sur Internet or Fighting</text>
<text class="t" x="618.5" y="271.3" font-size="45.0" textLength="400.5" lengthAdjust="spacingAndGlyphs">Hate on the Internet</text>
<text class="b" x="1203.0" y="112.6" font-size="37.5" textLength="163.5" lengthAdjust="spacingAndGlyphs">Germany,</text>
<text class="r" x="1371.3" y="113.2" font-size="41.0" textLength="320.8" lengthAdjust="spacingAndGlyphs">passed in July 2017</text>
<g transform="translate(1204.0,144.0)"><rect width="35" height="35" fill="#0068b4"/><path d="M0,17.1 H27" stroke="#fff" stroke-width="4.3" fill="none"/><path d="M14,2.2 L29.8,17.1 L14.1,32" stroke="#fff" stroke-width="4.2" fill="none" stroke-linejoin="miter"/></g>
<text class="t" x="1250.0" y="179.8" font-size="45.0" textLength="230.5" lengthAdjust="spacingAndGlyphs">NetzDG law</text>
<text class="r" x="1489.8" y="181.0" font-size="41.0" textLength="189.3" lengthAdjust="spacingAndGlyphs">(a reformed</text>
<text class="r" x="1201.3" y="223.0" font-size="41.0" textLength="470.3" lengthAdjust="spacingAndGlyphs">law was passed in June 2020)</text>
<text class="h" x="39.8" y="574.7" font-size="76.0" textLength="190.4" lengthAdjust="spacingAndGlyphs">Fight</text>
<text class="h" x="41.3" y="652.1" font-size="76.0" textLength="245.9" lengthAdjust="spacingAndGlyphs">Across</text>
<text class="h" x="42.3" y="730.1" font-size="76.0" textLength="368.9" lengthAdjust="spacingAndGlyphs">the World</text>
<text class="s" x="39.6" y="788.5" font-size="34.0" textLength="355.8" lengthAdjust="spacingAndGlyphs">Some major laws passed</text>
<text class="s" x="40.6" y="829.4" font-size="34.0" textLength="304.3" lengthAdjust="spacingAndGlyphs">to moderate content.</text>
<text class="s" x="38.6" y="870.3" font-size="34.0" textLength="379.3" lengthAdjust="spacingAndGlyphs">Most of these put the onus</text>
<text class="s" x="39.6" y="911.0" font-size="34.0" textLength="373.8" lengthAdjust="spacingAndGlyphs">on social media platforms</text>
<text class="b" x="39.0" y="1026.3" font-size="37.5" textLength="109.0" lengthAdjust="spacingAndGlyphs">Brazil,</text>
<text class="r" x="152.8" y="1027.0" font-size="41.0" textLength="327.8" lengthAdjust="spacingAndGlyphs">passed in June 2020</text>
<g transform="translate(40.2,1056.2)"><rect width="35" height="35" fill="#0068b4"/><path d="M0,17.1 H27" stroke="#fff" stroke-width="4.3" fill="none"/><path d="M14,2.2 L29.8,17.1 L14.1,32" stroke="#fff" stroke-width="4.2" fill="none" stroke-linejoin="miter"/></g>
<text class="t" x="85.0" y="1094.4" font-size="45.0" textLength="414.5" lengthAdjust="spacingAndGlyphs">Lei das Fake News or</text>
<text class="t" x="39.5" y="1140.0" font-size="45.0" textLength="466.5" lengthAdjust="spacingAndGlyphs">Law Against Fake News</text>
<text class="b" x="620.0" y="985.7" font-size="37.5" textLength="94.5" lengthAdjust="spacingAndGlyphs">India,</text>
<text class="r" x="720.4" y="986.4" font-size="41.0" textLength="152.3" lengthAdjust="spacingAndGlyphs">Dec 2018</text>
<g transform="translate(621.0,1015.2)"><rect width="35" height="35" fill="#0068b4"/><path d="M0,17.1 H27" stroke="#fff" stroke-width="4.3" fill="none"/><path d="M14,2.2 L29.8,17.1 L14.1,32" stroke="#fff" stroke-width="4.2" fill="none" stroke-linejoin="miter"/></g>
<text class="t" x="666.0" y="1053.1" font-size="45.0" textLength="249.0" lengthAdjust="spacingAndGlyphs">Information</text>
<text class="t" x="621.5" y="1099.3" font-size="45.0" textLength="233.0" lengthAdjust="spacingAndGlyphs">Technology</text>
<text class="r" x="863.9" y="1100.5" font-size="41.0" textLength="222.8" lengthAdjust="spacingAndGlyphs">[Intermediary</text>
<text class="r" x="619.4" y="1141.5" font-size="41.0" textLength="501.3" lengthAdjust="spacingAndGlyphs">Guidelines (Amendment) Rules]</text>
<text class="b" x="1204.5" y="985.7" font-size="37.5" textLength="161.5" lengthAdjust="spacingAndGlyphs">Australia,</text>
<text class="r" x="1370.4" y="986.4" font-size="41.0" textLength="329.8" lengthAdjust="spacingAndGlyphs">passed in April 2019</text>
<g transform="translate(1204.1,1015.2)"><rect width="35" height="35" fill="#0068b4"/><path d="M0,17.1 H27" stroke="#fff" stroke-width="4.3" fill="none"/><path d="M14,2.2 L29.8,17.1 L14.1,32" stroke="#fff" stroke-width="4.2" fill="none" stroke-linejoin="miter"/></g>
<text class="t" x="1250.0" y="1053.1" font-size="45.0" textLength="280.5" lengthAdjust="spacingAndGlyphs">Criminal Code</text>
<text class="t" x="1204.0" y="1099.3" font-size="45.0" textLength="327.0" lengthAdjust="spacingAndGlyphs">Amendment Act</text>
<text class="r" x="1538.4" y="1100.5" font-size="41.0" textLength="136.3" lengthAdjust="spacingAndGlyphs">(Sharing</text>
<text class="r" x="1202.9" y="1141.5" font-size="41.0" textLength="483.8" lengthAdjust="spacingAndGlyphs">of Abhorrent Violent Material)</text>
<rect x="1481" y="1038" width="50" height="18.5" fill="#454b52" opacity=".62"/>
<text x="1492.5" y="1051.5" font-size="10.5" font-weight="bold" fill="#fff" textLength="33" lengthAdjust="spacingAndGlyphs">BCCL</text>
</svg></body></html>
